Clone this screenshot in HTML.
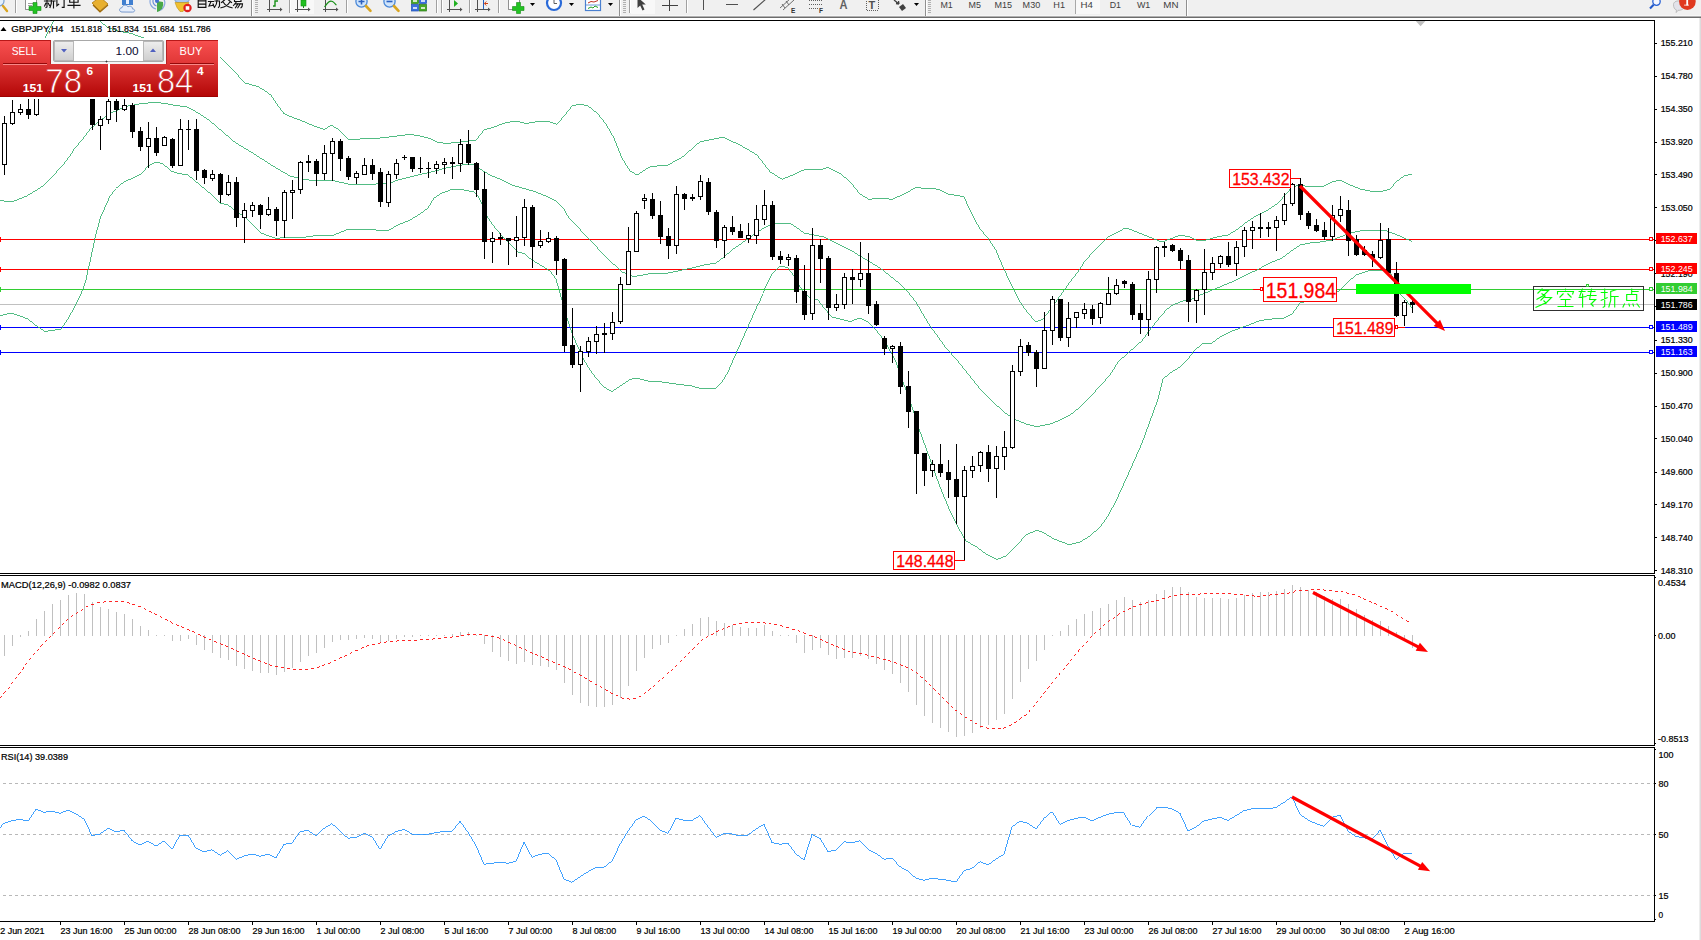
<!DOCTYPE html>
<html><head><meta charset="utf-8"><title>GBPJPY H4</title>
<style>html,body{margin:0;padding:0;background:#fff}body{width:1701px;height:940px;overflow:hidden;position:relative;font-family:"Liberation Sans",sans-serif}svg{position:absolute;left:0;top:0;display:block}text{font-family:"Liberation Sans",sans-serif}</style>
</head><body>
<svg width="1701" height="940" viewBox="0 0 1701 940">
<defs>
<linearGradient id="gTop" x1="0" y1="0" x2="0" y2="1"><stop offset="0" stop-color="#f85050"/><stop offset="1" stop-color="#e03636"/></linearGradient>
<linearGradient id="gBot" x1="0" y1="0" x2="0" y2="1"><stop offset="0" stop-color="#dc3434"/><stop offset="1" stop-color="#b30606"/></linearGradient>
<linearGradient id="gBtn" x1="0" y1="0" x2="0" y2="1"><stop offset="0" stop-color="#eeeeee"/><stop offset="1" stop-color="#cfcfcf"/></linearGradient>
<linearGradient id="gBotU" gradientUnits="userSpaceOnUse" x1="0" y1="64" x2="0" y2="97"><stop offset="0" stop-color="#dc3434"/><stop offset="1" stop-color="#b30606"/></linearGradient>
<clipPath id="cMain"><rect x="0" y="21" width="1654" height="552"/></clipPath>
<clipPath id="cTime"><rect x="0" y="922" width="1701" height="18"/></clipPath>
</defs>
<rect x="0" y="0" width="1701" height="940" fill="#fff"/>
<g clip-path="url(#cMain)">
<g shape-rendering="crispEdges">
<rect x="0" y="304" width="1654" height="1" fill="#c0c0c0"/>
<rect x="0" y="239" width="1654" height="1" fill="#ff0000"/>
<rect x="0" y="269" width="1654" height="1" fill="#ff0000"/>
<rect x="0" y="289" width="1654" height="1" fill="#32cd32"/>
<rect x="0" y="327" width="1654" height="1" fill="#0000ff"/>
<rect x="0" y="352" width="1654" height="1" fill="#0000ff"/>
</g>
<polyline points="45.0,38.0 50.0,28.0 54.2,20.0" fill="none" stroke="#34b06e" stroke-width="0.85" shape-rendering="crispEdges"/>
<polyline points="98.8,20.0 107.0,27.2 118.5,31.3 131.7,33.7 142.4,37.5 160.0,42.0 190.0,48.0 218.0,55.0 233.0,70.0 245.0,83.0 258.0,86.7 264.0,90.0 271.2,95.4 278.5,106.3 283.9,113.5 290.0,116.4 300.0,120.0 314.0,126.0 324.0,129.4 331.4,125.4 338.0,129.0 348.0,139.0 360.0,139.0 380.0,138.0 394.0,136.4 410.0,134.4 420.0,136.0 430.0,138.4 437.0,142.0 446.0,143.4 456.0,142.6 466.0,141.4 476.0,140.0 484.0,130.0 494.0,127.0 506.0,122.6 516.0,121.0 526.0,123.4 538.0,121.6 550.0,122.0 557.0,124.4 564.0,116.0 572.0,106.0 579.0,104.0 588.0,106.0 598.0,114.0 606.0,124.0 614.0,138.0 622.0,158.0 630.0,171.0 637.0,175.0 650.0,166.7 668.0,165.0 683.0,156.7 700.0,141.7 723.0,137.3 740.0,145.0 757.0,155.0 770.0,171.7 782.0,179.3 793.0,175.0 805.0,169.3 820.0,170.0 828.0,167.3 840.0,173.3 850.0,181.7 860.0,194.0 869.0,199.4 880.0,198.0 892.0,199.4 904.0,194.0 917.0,187.0 924.0,189.0 932.0,188.0 940.0,190.0 949.0,194.4 958.0,195.6 964.0,197.0 969.0,208.0 975.0,220.0 980.0,229.0 988.0,238.0 996.0,250.0 1000.0,260.0 1004.0,269.0 1009.0,280.0 1013.0,288.0 1020.0,302.0 1028.0,313.0 1036.0,322.0 1043.0,319.0 1050.0,310.0 1060.0,296.0 1070.0,282.0 1080.0,269.0 1084.0,262.0 1096.0,249.0 1108.0,237.0 1118.0,232.0 1125.0,228.0 1132.0,230.0 1144.0,235.0 1154.0,239.0 1162.0,242.0 1170.0,239.0 1180.0,235.0 1190.0,237.0 1198.0,241.0 1206.0,240.0 1218.0,236.6 1228.0,235.0 1238.0,229.0 1246.0,222.5 1256.0,216.0 1268.0,210.0 1278.0,203.0 1286.0,194.0 1292.0,187.0 1300.0,185.0 1310.0,187.0 1324.0,186.0 1332.0,182.0 1340.0,180.0 1348.0,184.0 1360.0,189.0 1370.0,191.0 1380.0,192.0 1390.0,189.0 1396.0,182.0 1404.0,176.0 1412.0,174.0" fill="none" stroke="#34b06e" stroke-width="0.85" shape-rendering="crispEdges"/>
<polyline points="0.0,200.7 12.7,201.6 27.1,195.8 43.4,185.8 54.2,175.0 61.5,165.9 72.3,151.5 81.4,140.6 90.4,128.9 101.3,119.8 112.1,112.6 126.6,106.3 141.0,103.6 155.5,102.3 170.0,104.5 188.1,107.2 198.9,113.5 209.8,120.7 222.4,131.6 235.1,142.4 253.2,153.3 271.2,165.0 282.1,171.4 290.0,176.0 302.0,179.0 316.0,181.0 332.0,180.4 348.0,184.0 358.0,184.4 376.0,184.0 390.0,183.0 398.0,180.0 410.0,177.0 422.0,174.0 434.0,171.4 446.0,168.0 456.0,166.0 466.0,164.4 474.0,165.0 480.0,169.0 490.0,175.0 502.0,180.0 512.0,185.0 522.0,188.0 536.0,192.0 548.0,197.0 556.0,201.0 564.0,209.0 567.0,215.0 571.0,220.0 590.0,240.0 606.0,257.0 622.0,272.0 634.0,276.6 650.0,273.6 668.0,273.0 692.0,268.0 704.0,265.0 716.0,263.0 724.0,257.0 732.0,250.0 742.0,243.0 752.0,236.0 762.0,229.0 770.0,225.0 778.0,223.0 789.0,223.0 796.0,227.0 804.0,233.0 814.0,235.0 824.0,237.0 830.0,240.0 840.0,245.0 852.0,251.0 860.0,256.0 870.0,262.0 880.0,268.0 890.0,276.0 900.0,284.0 908.0,292.0 916.0,302.0 924.0,316.0 930.0,326.0 936.0,334.0 946.0,348.0 957.0,360.0 969.0,375.0 980.0,389.0 992.0,401.0 1004.0,412.0 1014.0,419.0 1026.0,424.0 1037.0,426.6 1050.0,424.0 1060.0,420.0 1070.0,415.0 1080.0,407.0 1090.0,397.0 1100.0,386.0 1110.0,375.0 1118.0,362.0 1128.0,353.0 1140.0,342.5 1150.0,328.5 1158.0,318.5 1164.0,311.5 1172.0,305.5 1182.0,301.2 1190.0,300.0 1200.0,295.0 1210.0,291.0 1222.0,286.0 1234.0,281.0 1246.0,275.0 1258.0,269.4 1270.0,263.0 1282.0,258.0 1290.0,252.0 1300.0,245.0 1310.0,243.0 1320.0,242.0 1332.0,240.0 1340.0,237.0 1350.0,233.0 1360.0,231.0 1372.0,230.0 1384.0,230.0 1392.0,233.0 1400.0,236.0 1412.0,241.6" fill="none" stroke="#34b06e" stroke-width="0.85" shape-rendering="crispEdges"/>
<polyline points="0.0,315.6 11.0,313.0 20.0,316.0 28.0,319.0 36.0,325.6 45.0,331.4 52.0,330.4 61.0,329.0 68.0,319.0 75.0,306.0 80.0,296.0 84.0,286.0 86.0,280.0 88.5,268.0 90.4,260.0 95.8,234.7 101.3,214.8 108.5,198.5 115.7,188.6 124.8,181.3 133.8,177.7 141.0,174.1 148.3,165.9 155.5,162.3 162.7,163.8 171.8,171.4 179.0,173.5 188.1,175.0 198.9,184.0 209.8,193.1 219.7,203.0 227.8,204.8 235.1,210.3 244.1,216.6 253.2,224.7 260.4,232.9 269.4,236.1 276.7,238.6 283.9,237.4 290.0,237.6 306.0,237.0 320.0,235.0 332.0,235.6 348.0,229.4 360.0,229.0 376.0,230.0 388.0,230.6 398.0,225.0 410.0,220.0 420.0,214.0 428.0,208.0 434.0,198.0 442.0,193.0 452.0,189.4 464.0,190.0 474.0,192.0 478.0,196.0 482.0,204.0 487.0,216.0 492.0,224.0 502.0,236.0 510.0,244.0 518.0,252.0 524.0,253.6 532.0,260.0 542.0,266.0 550.0,271.0 556.0,279.0 562.0,300.0 567.0,318.0 573.0,336.0 582.0,356.0 588.0,367.0 596.0,378.0 604.0,387.0 612.0,391.6 620.0,386.0 630.0,379.4 636.0,378.0 648.0,381.0 662.0,382.0 676.0,384.0 692.0,386.0 700.0,388.4 716.0,388.4 722.0,382.0 728.0,372.0 734.0,358.0 742.0,340.0 750.0,322.0 758.0,304.0 766.0,286.0 772.0,274.0 778.0,267.6 782.0,266.0 788.0,268.0 794.0,276.0 802.0,290.0 810.0,298.0 818.0,300.0 824.0,308.0 832.0,317.0 840.0,319.0 850.0,321.6 860.0,318.0 868.0,322.0 876.0,330.0 884.0,340.0 892.0,354.0 896.0,362.0 902.0,379.0 910.0,401.0 919.0,429.0 930.0,459.0 940.0,487.0 950.0,511.0 958.0,527.0 966.0,541.0 976.0,546.6 986.0,554.0 997.0,559.4 1006.0,556.0 1016.0,546.0 1026.0,535.0 1037.0,530.0 1044.0,533.0 1054.0,539.0 1069.0,544.6 1080.0,542.0 1090.0,536.0 1100.0,527.0 1108.0,516.0 1116.0,501.0 1126.0,479.0 1134.0,461.0 1142.0,443.0 1150.0,421.0 1158.0,399.0 1163.0,379.0 1170.0,373.0 1180.0,367.0 1188.0,359.0 1194.0,351.0 1202.0,344.0 1212.0,343.0 1220.0,337.0 1232.0,331.0 1246.0,326.0 1260.0,320.6 1272.0,319.0 1284.0,318.0 1292.0,314.0 1300.0,303.0 1314.0,299.0 1332.0,296.0 1340.0,290.0 1348.0,282.0 1356.0,275.0 1368.0,271.0 1380.0,270.0 1390.0,272.0 1396.0,284.0 1400.0,294.0 1406.0,300.0 1412.0,308.0" fill="none" stroke="#34b06e" stroke-width="0.85" shape-rendering="crispEdges"/>
<g shape-rendering="crispEdges" fill="#000">
<rect x="4" y="116" width="1" height="59"/>
<rect x="2" y="123" width="5" height="42"/>
<rect x="3" y="124" width="3" height="40" fill="#fff"/>
<rect x="12" y="100" width="1" height="25"/>
<rect x="10" y="112" width="5" height="12"/>
<rect x="11" y="113" width="3" height="10" fill="#fff"/>
<rect x="20" y="104" width="1" height="11"/>
<rect x="18" y="109" width="5" height="4"/>
<rect x="19" y="110" width="3" height="2" fill="#fff"/>
<rect x="28" y="99" width="1" height="20"/>
<rect x="26" y="109" width="5" height="6"/>
<rect x="36" y="90" width="1" height="26"/>
<rect x="34" y="92" width="5" height="23"/>
<rect x="35" y="93" width="3" height="21" fill="#fff"/>
<rect x="92" y="80" width="1" height="50"/>
<rect x="90" y="80" width="5" height="45"/>
<rect x="100" y="116" width="1" height="34"/>
<rect x="98" y="119" width="5" height="7"/>
<rect x="99" y="120" width="3" height="5" fill="#fff"/>
<rect x="108" y="90" width="1" height="34"/>
<rect x="106" y="101" width="5" height="19"/>
<rect x="107" y="102" width="3" height="17" fill="#fff"/>
<rect x="116" y="92" width="1" height="30"/>
<rect x="114" y="101" width="5" height="9"/>
<rect x="124" y="92" width="1" height="19"/>
<rect x="122" y="105" width="5" height="5"/>
<rect x="123" y="106" width="3" height="3" fill="#fff"/>
<rect x="132" y="103" width="1" height="35"/>
<rect x="130" y="105" width="5" height="27"/>
<rect x="140" y="127" width="1" height="24"/>
<rect x="138" y="131" width="5" height="16"/>
<rect x="148" y="122" width="1" height="46"/>
<rect x="146" y="138" width="5" height="9"/>
<rect x="147" y="139" width="3" height="7" fill="#fff"/>
<rect x="156" y="127" width="1" height="29"/>
<rect x="154" y="138" width="5" height="15"/>
<rect x="164" y="136" width="1" height="10"/>
<rect x="162" y="137" width="5" height="9"/>
<rect x="163" y="138" width="3" height="7" fill="#fff"/>
<rect x="172" y="138" width="1" height="30"/>
<rect x="170" y="139" width="5" height="27"/>
<rect x="180" y="119" width="1" height="47"/>
<rect x="178" y="129" width="5" height="37"/>
<rect x="179" y="130" width="3" height="35" fill="#fff"/>
<rect x="188" y="120" width="1" height="30"/>
<rect x="186" y="129" width="5" height="1"/>
<rect x="196" y="119" width="1" height="61"/>
<rect x="194" y="129" width="5" height="42"/>
<rect x="204" y="169" width="1" height="15"/>
<rect x="202" y="170" width="5" height="8"/>
<rect x="212" y="170" width="1" height="11"/>
<rect x="210" y="174" width="5" height="5"/>
<rect x="211" y="175" width="3" height="3" fill="#fff"/>
<rect x="220" y="173" width="1" height="30"/>
<rect x="218" y="174" width="5" height="21"/>
<rect x="228" y="175" width="1" height="21"/>
<rect x="226" y="182" width="5" height="13"/>
<rect x="227" y="183" width="3" height="11" fill="#fff"/>
<rect x="236" y="177" width="1" height="50"/>
<rect x="234" y="182" width="5" height="36"/>
<rect x="244" y="203" width="1" height="40"/>
<rect x="242" y="210" width="5" height="8"/>
<rect x="243" y="211" width="3" height="6" fill="#fff"/>
<rect x="252" y="202" width="1" height="15"/>
<rect x="250" y="205" width="5" height="6"/>
<rect x="251" y="206" width="3" height="4" fill="#fff"/>
<rect x="260" y="204" width="1" height="25"/>
<rect x="258" y="205" width="5" height="10"/>
<rect x="268" y="197" width="1" height="19"/>
<rect x="266" y="209" width="5" height="6"/>
<rect x="267" y="210" width="3" height="4" fill="#fff"/>
<rect x="276" y="207" width="1" height="29"/>
<rect x="274" y="209" width="5" height="12"/>
<rect x="284" y="190" width="1" height="48"/>
<rect x="282" y="192" width="5" height="29"/>
<rect x="283" y="193" width="3" height="27" fill="#fff"/>
<rect x="292" y="180" width="1" height="39"/>
<rect x="290" y="190" width="5" height="3"/>
<rect x="291" y="191" width="3" height="1" fill="#fff"/>
<rect x="300" y="161" width="1" height="33"/>
<rect x="298" y="162" width="5" height="28"/>
<rect x="299" y="163" width="3" height="26" fill="#fff"/>
<rect x="308" y="155" width="1" height="17"/>
<rect x="306" y="161" width="5" height="2"/>
<rect x="316" y="159" width="1" height="27"/>
<rect x="314" y="161" width="5" height="13"/>
<rect x="324" y="145" width="1" height="35"/>
<rect x="322" y="153" width="5" height="21"/>
<rect x="323" y="154" width="3" height="19" fill="#fff"/>
<rect x="332" y="138" width="1" height="43"/>
<rect x="330" y="141" width="5" height="13"/>
<rect x="331" y="142" width="3" height="11" fill="#fff"/>
<rect x="340" y="139" width="1" height="32"/>
<rect x="338" y="141" width="5" height="18"/>
<rect x="348" y="156" width="1" height="24"/>
<rect x="346" y="158" width="5" height="19"/>
<rect x="356" y="171" width="1" height="13"/>
<rect x="354" y="173" width="5" height="5"/>
<rect x="355" y="174" width="3" height="3" fill="#fff"/>
<rect x="364" y="158" width="1" height="17"/>
<rect x="362" y="165" width="5" height="10"/>
<rect x="363" y="166" width="3" height="8" fill="#fff"/>
<rect x="372" y="159" width="1" height="21"/>
<rect x="370" y="165" width="5" height="9"/>
<rect x="380" y="168" width="1" height="39"/>
<rect x="378" y="172" width="5" height="30"/>
<rect x="388" y="171" width="1" height="36"/>
<rect x="386" y="174" width="5" height="29"/>
<rect x="387" y="175" width="3" height="27" fill="#fff"/>
<rect x="396" y="159" width="1" height="20"/>
<rect x="394" y="163" width="5" height="12"/>
<rect x="395" y="164" width="3" height="10" fill="#fff"/>
<rect x="404" y="155" width="1" height="5"/>
<rect x="402" y="157" width="5" height="1"/>
<rect x="412" y="157" width="1" height="15"/>
<rect x="410" y="157" width="5" height="12"/>
<rect x="420" y="157" width="1" height="16"/>
<rect x="418" y="168" width="5" height="1"/>
<rect x="428" y="162" width="1" height="16"/>
<rect x="426" y="168" width="5" height="1"/>
<rect x="436" y="161" width="1" height="13"/>
<rect x="434" y="164" width="5" height="5"/>
<rect x="435" y="165" width="3" height="3" fill="#fff"/>
<rect x="444" y="158" width="1" height="16"/>
<rect x="442" y="162" width="5" height="3"/>
<rect x="443" y="163" width="3" height="1" fill="#fff"/>
<rect x="452" y="157" width="1" height="22"/>
<rect x="450" y="162" width="5" height="2"/>
<rect x="460" y="139" width="1" height="33"/>
<rect x="458" y="144" width="5" height="20"/>
<rect x="459" y="145" width="3" height="18" fill="#fff"/>
<rect x="468" y="130" width="1" height="35"/>
<rect x="466" y="144" width="5" height="19"/>
<rect x="476" y="162" width="1" height="35"/>
<rect x="474" y="163" width="5" height="27"/>
<rect x="484" y="172" width="1" height="87"/>
<rect x="482" y="189" width="5" height="53"/>
<rect x="492" y="232" width="1" height="31"/>
<rect x="490" y="238" width="5" height="4"/>
<rect x="491" y="239" width="3" height="2" fill="#fff"/>
<rect x="500" y="233" width="1" height="12"/>
<rect x="498" y="237" width="5" height="2"/>
<rect x="508" y="238" width="1" height="27"/>
<rect x="506" y="238" width="5" height="3"/>
<rect x="516" y="216" width="1" height="41"/>
<rect x="514" y="237" width="5" height="4"/>
<rect x="515" y="238" width="3" height="2" fill="#fff"/>
<rect x="524" y="199" width="1" height="47"/>
<rect x="522" y="207" width="5" height="31"/>
<rect x="523" y="208" width="3" height="29" fill="#fff"/>
<rect x="532" y="205" width="1" height="63"/>
<rect x="530" y="207" width="5" height="40"/>
<rect x="540" y="230" width="1" height="18"/>
<rect x="538" y="241" width="5" height="5"/>
<rect x="539" y="242" width="3" height="3" fill="#fff"/>
<rect x="548" y="232" width="1" height="11"/>
<rect x="546" y="238" width="5" height="4"/>
<rect x="547" y="239" width="3" height="2" fill="#fff"/>
<rect x="556" y="236" width="1" height="39"/>
<rect x="554" y="238" width="5" height="23"/>
<rect x="564" y="258" width="1" height="94"/>
<rect x="562" y="259" width="5" height="87"/>
<rect x="572" y="308" width="1" height="60"/>
<rect x="570" y="345" width="5" height="20"/>
<rect x="580" y="346" width="1" height="46"/>
<rect x="578" y="351" width="5" height="14"/>
<rect x="579" y="352" width="3" height="12" fill="#fff"/>
<rect x="588" y="337" width="1" height="20"/>
<rect x="586" y="341" width="5" height="11"/>
<rect x="587" y="342" width="3" height="9" fill="#fff"/>
<rect x="596" y="326" width="1" height="28"/>
<rect x="594" y="334" width="5" height="8"/>
<rect x="595" y="335" width="3" height="6" fill="#fff"/>
<rect x="604" y="323" width="1" height="30"/>
<rect x="602" y="333" width="5" height="2"/>
<rect x="612" y="312" width="1" height="28"/>
<rect x="610" y="322" width="5" height="12"/>
<rect x="611" y="323" width="3" height="10" fill="#fff"/>
<rect x="620" y="277" width="1" height="47"/>
<rect x="618" y="284" width="5" height="38"/>
<rect x="619" y="285" width="3" height="36" fill="#fff"/>
<rect x="628" y="227" width="1" height="58"/>
<rect x="626" y="251" width="5" height="34"/>
<rect x="627" y="252" width="3" height="32" fill="#fff"/>
<rect x="636" y="211" width="1" height="41"/>
<rect x="634" y="213" width="5" height="39"/>
<rect x="635" y="214" width="3" height="37" fill="#fff"/>
<rect x="644" y="194" width="1" height="15"/>
<rect x="642" y="198" width="5" height="3"/>
<rect x="643" y="199" width="3" height="1" fill="#fff"/>
<rect x="652" y="193" width="1" height="26"/>
<rect x="650" y="199" width="5" height="17"/>
<rect x="660" y="201" width="1" height="43"/>
<rect x="658" y="215" width="5" height="22"/>
<rect x="668" y="228" width="1" height="31"/>
<rect x="666" y="236" width="5" height="10"/>
<rect x="676" y="186" width="1" height="68"/>
<rect x="674" y="194" width="5" height="52"/>
<rect x="675" y="195" width="3" height="50" fill="#fff"/>
<rect x="684" y="193" width="1" height="17"/>
<rect x="682" y="194" width="5" height="5"/>
<rect x="692" y="194" width="1" height="7"/>
<rect x="690" y="197" width="5" height="2"/>
<rect x="700" y="175" width="1" height="25"/>
<rect x="698" y="181" width="5" height="16"/>
<rect x="699" y="182" width="3" height="14" fill="#fff"/>
<rect x="708" y="178" width="1" height="37"/>
<rect x="706" y="182" width="5" height="30"/>
<rect x="716" y="210" width="1" height="38"/>
<rect x="714" y="212" width="5" height="29"/>
<rect x="724" y="225" width="1" height="33"/>
<rect x="722" y="227" width="5" height="14"/>
<rect x="723" y="228" width="3" height="12" fill="#fff"/>
<rect x="732" y="216" width="1" height="19"/>
<rect x="730" y="227" width="5" height="5"/>
<rect x="740" y="224" width="1" height="14"/>
<rect x="738" y="231" width="5" height="7"/>
<rect x="748" y="223" width="1" height="20"/>
<rect x="746" y="235" width="5" height="4"/>
<rect x="747" y="236" width="3" height="2" fill="#fff"/>
<rect x="756" y="205" width="1" height="39"/>
<rect x="754" y="219" width="5" height="17"/>
<rect x="755" y="220" width="3" height="15" fill="#fff"/>
<rect x="764" y="190" width="1" height="35"/>
<rect x="762" y="205" width="5" height="15"/>
<rect x="763" y="206" width="3" height="13" fill="#fff"/>
<rect x="772" y="201" width="1" height="59"/>
<rect x="770" y="205" width="5" height="52"/>
<rect x="780" y="251" width="1" height="13"/>
<rect x="778" y="256" width="5" height="4"/>
<rect x="788" y="254" width="1" height="12"/>
<rect x="786" y="257" width="5" height="3"/>
<rect x="787" y="258" width="3" height="1" fill="#fff"/>
<rect x="796" y="255" width="1" height="48"/>
<rect x="794" y="258" width="5" height="34"/>
<rect x="804" y="265" width="1" height="55"/>
<rect x="802" y="291" width="5" height="24"/>
<rect x="812" y="228" width="1" height="92"/>
<rect x="810" y="245" width="5" height="69"/>
<rect x="811" y="246" width="3" height="67" fill="#fff"/>
<rect x="820" y="239" width="1" height="44"/>
<rect x="818" y="245" width="5" height="14"/>
<rect x="828" y="256" width="1" height="64"/>
<rect x="826" y="258" width="5" height="50"/>
<rect x="836" y="294" width="1" height="17"/>
<rect x="834" y="304" width="5" height="4"/>
<rect x="835" y="305" width="3" height="2" fill="#fff"/>
<rect x="844" y="273" width="1" height="36"/>
<rect x="842" y="277" width="5" height="28"/>
<rect x="843" y="278" width="3" height="26" fill="#fff"/>
<rect x="852" y="269" width="1" height="35"/>
<rect x="850" y="277" width="5" height="3"/>
<rect x="860" y="242" width="1" height="45"/>
<rect x="858" y="273" width="5" height="7"/>
<rect x="859" y="274" width="3" height="5" fill="#fff"/>
<rect x="868" y="253" width="1" height="61"/>
<rect x="866" y="273" width="5" height="33"/>
<rect x="876" y="301" width="1" height="25"/>
<rect x="874" y="304" width="5" height="21"/>
<rect x="884" y="336" width="1" height="19"/>
<rect x="882" y="338" width="5" height="11"/>
<rect x="892" y="345" width="1" height="18"/>
<rect x="890" y="346" width="5" height="3"/>
<rect x="891" y="347" width="3" height="1" fill="#fff"/>
<rect x="900" y="342" width="1" height="52"/>
<rect x="898" y="346" width="5" height="41"/>
<rect x="908" y="371" width="1" height="57"/>
<rect x="906" y="386" width="5" height="26"/>
<rect x="916" y="411" width="1" height="83"/>
<rect x="914" y="411" width="5" height="43"/>
<rect x="924" y="453" width="1" height="33"/>
<rect x="922" y="453" width="5" height="18"/>
<rect x="932" y="460" width="1" height="17"/>
<rect x="930" y="464" width="5" height="7"/>
<rect x="931" y="465" width="3" height="5" fill="#fff"/>
<rect x="940" y="444" width="1" height="33"/>
<rect x="938" y="464" width="5" height="9"/>
<rect x="948" y="460" width="1" height="38"/>
<rect x="946" y="472" width="5" height="8"/>
<rect x="956" y="444" width="1" height="80"/>
<rect x="954" y="479" width="5" height="18"/>
<rect x="964" y="466" width="1" height="94"/>
<rect x="962" y="470" width="5" height="27"/>
<rect x="963" y="471" width="3" height="25" fill="#fff"/>
<rect x="972" y="456" width="1" height="22"/>
<rect x="970" y="466" width="5" height="5"/>
<rect x="971" y="467" width="3" height="3" fill="#fff"/>
<rect x="980" y="451" width="1" height="21"/>
<rect x="978" y="452" width="5" height="14"/>
<rect x="979" y="453" width="3" height="12" fill="#fff"/>
<rect x="988" y="445" width="1" height="37"/>
<rect x="986" y="452" width="5" height="17"/>
<rect x="996" y="446" width="1" height="52"/>
<rect x="994" y="456" width="5" height="13"/>
<rect x="995" y="457" width="3" height="11" fill="#fff"/>
<rect x="1004" y="431" width="1" height="39"/>
<rect x="1002" y="447" width="5" height="10"/>
<rect x="1003" y="448" width="3" height="8" fill="#fff"/>
<rect x="1012" y="365" width="1" height="84"/>
<rect x="1010" y="371" width="5" height="77"/>
<rect x="1011" y="372" width="3" height="75" fill="#fff"/>
<rect x="1020" y="339" width="1" height="37"/>
<rect x="1018" y="346" width="5" height="26"/>
<rect x="1019" y="347" width="3" height="24" fill="#fff"/>
<rect x="1028" y="342" width="1" height="14"/>
<rect x="1026" y="345" width="5" height="8"/>
<rect x="1036" y="350" width="1" height="37"/>
<rect x="1034" y="352" width="5" height="17"/>
<rect x="1044" y="312" width="1" height="57"/>
<rect x="1042" y="330" width="5" height="39"/>
<rect x="1043" y="331" width="3" height="37" fill="#fff"/>
<rect x="1052" y="296" width="1" height="49"/>
<rect x="1050" y="299" width="5" height="32"/>
<rect x="1051" y="300" width="3" height="30" fill="#fff"/>
<rect x="1060" y="299" width="1" height="42"/>
<rect x="1058" y="299" width="5" height="39"/>
<rect x="1068" y="302" width="1" height="45"/>
<rect x="1066" y="318" width="5" height="20"/>
<rect x="1067" y="319" width="3" height="18" fill="#fff"/>
<rect x="1076" y="312" width="1" height="16"/>
<rect x="1074" y="312" width="5" height="6"/>
<rect x="1075" y="313" width="3" height="4" fill="#fff"/>
<rect x="1084" y="303" width="1" height="16"/>
<rect x="1082" y="309" width="5" height="5"/>
<rect x="1083" y="310" width="3" height="3" fill="#fff"/>
<rect x="1092" y="305" width="1" height="20"/>
<rect x="1090" y="309" width="5" height="10"/>
<rect x="1100" y="302" width="1" height="22"/>
<rect x="1098" y="303" width="5" height="15"/>
<rect x="1099" y="304" width="3" height="13" fill="#fff"/>
<rect x="1108" y="277" width="1" height="28"/>
<rect x="1106" y="293" width="5" height="12"/>
<rect x="1107" y="294" width="3" height="10" fill="#fff"/>
<rect x="1116" y="279" width="1" height="16"/>
<rect x="1114" y="285" width="5" height="9"/>
<rect x="1115" y="286" width="3" height="7" fill="#fff"/>
<rect x="1124" y="280" width="1" height="8"/>
<rect x="1122" y="281" width="5" height="3"/>
<rect x="1132" y="282" width="1" height="38"/>
<rect x="1130" y="284" width="5" height="31"/>
<rect x="1140" y="304" width="1" height="30"/>
<rect x="1138" y="313" width="5" height="7"/>
<rect x="1148" y="271" width="1" height="65"/>
<rect x="1146" y="279" width="5" height="41"/>
<rect x="1147" y="280" width="3" height="39" fill="#fff"/>
<rect x="1156" y="246" width="1" height="47"/>
<rect x="1154" y="247" width="5" height="33"/>
<rect x="1155" y="248" width="3" height="31" fill="#fff"/>
<rect x="1164" y="242" width="1" height="15"/>
<rect x="1162" y="246" width="5" height="2"/>
<rect x="1172" y="244" width="1" height="8"/>
<rect x="1170" y="245" width="5" height="6"/>
<rect x="1180" y="248" width="1" height="21"/>
<rect x="1178" y="250" width="5" height="11"/>
<rect x="1188" y="255" width="1" height="67"/>
<rect x="1186" y="260" width="5" height="42"/>
<rect x="1196" y="289" width="1" height="34"/>
<rect x="1194" y="290" width="5" height="11"/>
<rect x="1195" y="291" width="3" height="9" fill="#fff"/>
<rect x="1204" y="249" width="1" height="66"/>
<rect x="1202" y="272" width="5" height="18"/>
<rect x="1203" y="273" width="3" height="16" fill="#fff"/>
<rect x="1212" y="257" width="1" height="23"/>
<rect x="1210" y="263" width="5" height="10"/>
<rect x="1211" y="264" width="3" height="8" fill="#fff"/>
<rect x="1220" y="255" width="1" height="13"/>
<rect x="1218" y="256" width="5" height="8"/>
<rect x="1219" y="257" width="3" height="6" fill="#fff"/>
<rect x="1228" y="242" width="1" height="25"/>
<rect x="1226" y="256" width="5" height="9"/>
<rect x="1236" y="241" width="1" height="35"/>
<rect x="1234" y="247" width="5" height="17"/>
<rect x="1235" y="248" width="3" height="15" fill="#fff"/>
<rect x="1244" y="227" width="1" height="30"/>
<rect x="1242" y="230" width="5" height="17"/>
<rect x="1243" y="231" width="3" height="15" fill="#fff"/>
<rect x="1252" y="221" width="1" height="28"/>
<rect x="1250" y="227" width="5" height="4"/>
<rect x="1251" y="228" width="3" height="2" fill="#fff"/>
<rect x="1260" y="213" width="1" height="25"/>
<rect x="1258" y="227" width="5" height="2"/>
<rect x="1268" y="222" width="1" height="15"/>
<rect x="1266" y="227" width="5" height="2"/>
<rect x="1276" y="216" width="1" height="35"/>
<rect x="1274" y="220" width="5" height="8"/>
<rect x="1275" y="221" width="3" height="6" fill="#fff"/>
<rect x="1284" y="193" width="1" height="32"/>
<rect x="1282" y="204" width="5" height="17"/>
<rect x="1283" y="205" width="3" height="15" fill="#fff"/>
<rect x="1292" y="183" width="1" height="23"/>
<rect x="1290" y="184" width="5" height="20"/>
<rect x="1291" y="185" width="3" height="18" fill="#fff"/>
<rect x="1300" y="178" width="1" height="42"/>
<rect x="1298" y="184" width="5" height="31"/>
<rect x="1308" y="211" width="1" height="18"/>
<rect x="1306" y="213" width="5" height="13"/>
<rect x="1316" y="219" width="1" height="13"/>
<rect x="1314" y="225" width="5" height="6"/>
<rect x="1324" y="222" width="1" height="18"/>
<rect x="1322" y="230" width="5" height="7"/>
<rect x="1332" y="205" width="1" height="36"/>
<rect x="1330" y="215" width="5" height="22"/>
<rect x="1331" y="216" width="3" height="20" fill="#fff"/>
<rect x="1340" y="196" width="1" height="26"/>
<rect x="1338" y="209" width="5" height="7"/>
<rect x="1339" y="210" width="3" height="5" fill="#fff"/>
<rect x="1348" y="200" width="1" height="56"/>
<rect x="1346" y="210" width="5" height="31"/>
<rect x="1356" y="235" width="1" height="21"/>
<rect x="1354" y="239" width="5" height="16"/>
<rect x="1364" y="246" width="1" height="10"/>
<rect x="1362" y="250" width="5" height="5"/>
<rect x="1372" y="251" width="1" height="16"/>
<rect x="1370" y="254" width="5" height="4"/>
<rect x="1380" y="223" width="1" height="36"/>
<rect x="1378" y="240" width="5" height="18"/>
<rect x="1379" y="241" width="3" height="16" fill="#fff"/>
<rect x="1388" y="228" width="1" height="45"/>
<rect x="1386" y="239" width="5" height="34"/>
<rect x="1396" y="262" width="1" height="55"/>
<rect x="1394" y="273" width="5" height="43"/>
<rect x="1404" y="300" width="1" height="26"/>
<rect x="1402" y="302" width="5" height="14"/>
<rect x="1403" y="303" width="3" height="12" fill="#fff"/>
<rect x="1412" y="300" width="1" height="13"/>
<rect x="1410" y="302" width="5" height="3"/>
</g>
</g>
<g>
<line x1="1300.0" y1="186.0" x2="1438.3" y2="324.3" stroke="#ff0000" stroke-width="3.2"/>
<polygon points="1445.0,331.0 1433.7,326.1 1440.1,319.7" fill="#ff0000"/>
<rect x="1356" y="284" width="115" height="10" fill="#00ff00" shape-rendering="crispEdges"/>
<rect x="1229.5" y="169.5" width="61" height="18" fill="#fff" stroke="#ff0000" stroke-width="1" shape-rendering="crispEdges"/>
<text x="1232.2" y="185.1" font-size="16.9" fill="#ff0000" textLength="57.3" lengthAdjust="spacingAndGlyphs" stroke="#ff0000" stroke-width="0.3">153.432</text>
<path d="M1290.5 178.5H1300" fill="none" stroke="#ff0000" stroke-width="1" shape-rendering="crispEdges"/>
<rect x="1263.5" y="277.5" width="73" height="24" fill="#fff" stroke="#ff0000" stroke-width="1" shape-rendering="crispEdges"/>
<text x="1265.8" y="298.1" font-size="22.5" fill="#ff0000" textLength="70.2" lengthAdjust="spacingAndGlyphs" stroke="#ff0000" stroke-width="0.3">151.984</text>
<path d="M1253 289.5H1260" stroke="#ff0000" stroke-width="1" shape-rendering="crispEdges"/><rect x="1260.5" y="287.5" width="2" height="3" fill="#fff" stroke="#ff0000" stroke-width="1" shape-rendering="crispEdges"/>
<rect x="1333.5" y="318.5" width="61" height="18" fill="#fff" stroke="#ff0000" stroke-width="1" shape-rendering="crispEdges"/>
<text x="1336.2" y="334.1" font-size="16.9" fill="#ff0000" textLength="57.3" lengthAdjust="spacingAndGlyphs" stroke="#ff0000" stroke-width="0.3">151.489</text>
<rect x="1395.5" y="325.5" width="2" height="3" fill="#fff" stroke="#ff0000" stroke-width="1" shape-rendering="crispEdges"/><path d="M1398 327.5H1405" stroke="#ff0000" stroke-width="1" shape-rendering="crispEdges"/>
<rect x="893.5" y="551.5" width="61" height="18" fill="#fff" stroke="#ff0000" stroke-width="1" shape-rendering="crispEdges"/>
<text x="896.2" y="567.1" font-size="16.9" fill="#ff0000" textLength="57.3" lengthAdjust="spacingAndGlyphs" stroke="#ff0000" stroke-width="0.3">148.448</text>
<path d="M955 560.5H964.5" stroke="#ff0000" stroke-width="1" shape-rendering="crispEdges"/>
<rect x="1649.5" y="237.5" width="3" height="3" fill="#fff" stroke="#ff0000" stroke-width="1" shape-rendering="crispEdges"/>
<rect x="0" y="237" width="1" height="5" fill="#ff0000" shape-rendering="crispEdges"/>
<rect x="1649.5" y="267.5" width="3" height="3" fill="#fff" stroke="#ff0000" stroke-width="1" shape-rendering="crispEdges"/>
<rect x="0" y="267" width="1" height="5" fill="#ff0000" shape-rendering="crispEdges"/>
<rect x="1649.5" y="287.5" width="3" height="3" fill="#fff" stroke="#32cd32" stroke-width="1" shape-rendering="crispEdges"/>
<rect x="0" y="287" width="1" height="5" fill="#32cd32" shape-rendering="crispEdges"/>
<rect x="1649.5" y="325.5" width="3" height="3" fill="#fff" stroke="#0000ff" stroke-width="1" shape-rendering="crispEdges"/>
<rect x="0" y="325" width="1" height="5" fill="#0000ff" shape-rendering="crispEdges"/>
<rect x="1649.5" y="350.5" width="3" height="3" fill="#fff" stroke="#0000ff" stroke-width="1" shape-rendering="crispEdges"/>
<rect x="0" y="350" width="1" height="5" fill="#0000ff" shape-rendering="crispEdges"/>
<rect x="1533.5" y="286.5" width="110" height="24" fill="none" stroke="#303030" stroke-width="1" shape-rendering="crispEdges"/>
<rect x="1586.5" y="284.5" width="2" height="2" fill="#fff" stroke="#32cd32" stroke-width="1" shape-rendering="crispEdges"/>
<path transform="translate(1534.5,288.5)" d="M8 0L3 5M7 2H14L9 7L2 11M7 5L10 7M11 7L6 12M10 9H17L12 14L1 19M9 12L12 15" fill="none" stroke="#00ff00" stroke-width="1.1"/>
<path transform="translate(1556.5,288.5)" d="M9 0V2M1 6V3H17L16 6M7 5L3 9M11 5L15 9M4 11H14M9 11V18M1 18H17" fill="none" stroke="#00ff00" stroke-width="1.1"/>
<path transform="translate(1578.6,288.5)" d="M0 3H7M4 0L1 8M0 9L8 8M4 5V19M9 3H17M8 7H18M13 0L11 11H17L13 15M12 15L15 18" fill="none" stroke="#00ff00" stroke-width="1.1"/>
<path transform="translate(1600.7,288.5)" d="M0 4H7M4 0V18L2 19M0 12L7 9M16 1L10 3V12L8 19M10 8H18M14 8V19" fill="none" stroke="#00ff00" stroke-width="1.1"/>
<path transform="translate(1622.7,288.5)" d="M9 0V6M9 3H16M4 6H14V12H4ZM2 15L0 19M6 15L7 18M10 15L11 18M14 15L17 19" fill="none" stroke="#00ff00" stroke-width="1.1"/>
</g>
<polygon points="0.5,31 6.5,31 3.5,27" fill="#000"/>
<text x="11.2" y="31.9" font-size="9.3" fill="#000" stroke="#000" stroke-width="0.22" textLength="52.2" lengthAdjust="spacingAndGlyphs" >GBPJPY,H4</text>
<text x="70.8" y="31.9" font-size="9.3" fill="#000" stroke="#000" stroke-width="0.22" textLength="31.2" lengthAdjust="spacingAndGlyphs" >151.818</text>
<text x="107" y="31.9" font-size="9.3" fill="#000" stroke="#000" stroke-width="0.22" textLength="31.8" lengthAdjust="spacingAndGlyphs" >151.834</text>
<text x="142.9" y="31.9" font-size="9.3" fill="#000" stroke="#000" stroke-width="0.22" textLength="31.6" lengthAdjust="spacingAndGlyphs" >151.684</text>
<text x="178.6" y="31.9" font-size="9.3" fill="#000" stroke="#000" stroke-width="0.22" textLength="32.1" lengthAdjust="spacingAndGlyphs" >151.786</text>
<g id="panel">
<rect x="0" y="38" width="220" height="61" fill="#fff"/>
<rect x="0" y="40" width="108" height="24" fill="url(#gTop)"/>
<rect x="110" y="40" width="108" height="24" fill="url(#gTop)"/>
<rect x="0" y="64" width="108" height="33" fill="url(#gBot)"/>
<rect x="110" y="64" width="108" height="33" fill="url(#gBot)"/>
<rect x="108" y="64" width="2" height="33" fill="#fff"/>
<rect x="0" y="40" width="51" height="1" fill="#b81818"/><rect x="166" y="40" width="52" height="1" fill="#b81818"/>
<rect x="0" y="96" width="108" height="1" fill="#9e0202"/><rect x="110" y="96" width="108" height="1" fill="#9e0202"/>
<rect x="50" y="40" width="1" height="24" fill="#b82424"/><rect x="166" y="40" width="1" height="24" fill="#b82424"/>
<rect x="3" y="63" width="44" height="1" fill="#940808"/><rect x="3" y="64" width="44" height="1" fill="#f88888"/>
<rect x="170" y="63" width="44" height="1" fill="#940808"/><rect x="170" y="64" width="44" height="1" fill="#f88888"/>
<rect x="51" y="40" width="115" height="24" fill="#f4f4f4"/>
<rect x="53.5" y="40.5" width="110" height="21" rx="1.5" fill="#fff" stroke="#a8a8a8" stroke-width="1"/>
<rect x="54.5" y="41.5" width="19" height="19" fill="url(#gBtn)" stroke="#b8b8b8" stroke-width="1"/>
<rect x="143.5" y="41.5" width="19" height="19" fill="url(#gBtn)" stroke="#b8b8b8" stroke-width="1"/>
<polygon points="61,49 67,49 64,52.5" fill="#5060c0"/>
<polygon points="150,52 156,52 153,48.5" fill="#5060c0"/>
<path d="M105.5 61.5h2M106.5 60.5v2" stroke="#333" stroke-width="0.8"/>
<text x="115.6" y="54.8" font-size="11.5" fill="#0a0a30" textLength="23" lengthAdjust="spacingAndGlyphs" >1.00</text>
<text x="11.8" y="55.1" font-size="11.3" fill="#fff" textLength="25" lengthAdjust="spacingAndGlyphs" >SELL</text>
<text x="179.6" y="55.1" font-size="11.3" fill="#fff" textLength="22.8" lengthAdjust="spacingAndGlyphs" >BUY</text>
<text x="22.7" y="92" font-size="11.8" fill="#fff" textLength="20.3" lengthAdjust="spacingAndGlyphs" font-weight="bold" >151</text>
<text x="45.3" y="92.6" font-size="34.2" fill="#fff" textLength="36.8" lengthAdjust="spacingAndGlyphs" stroke="url(#gBotU)" stroke-width="0.8">78</text>
<text x="86.5" y="75.3" font-size="10" fill="#fff" textLength="6.6" lengthAdjust="spacingAndGlyphs" font-weight="bold" >6</text>
<text x="132.5" y="92" font-size="11.8" fill="#fff" textLength="20.3" lengthAdjust="spacingAndGlyphs" font-weight="bold" >151</text>
<text x="156.9" y="92.6" font-size="34.2" fill="#fff" textLength="36.3" lengthAdjust="spacingAndGlyphs" stroke="url(#gBotU)" stroke-width="0.8">84</text>
<text x="197" y="75.3" font-size="10" fill="#fff" textLength="6.6" lengthAdjust="spacingAndGlyphs" font-weight="bold" >4</text>
</g>
<g shape-rendering="crispEdges">
<rect x="4" y="635" width="1" height="21" fill="#c0c0c0"/>
<rect x="12" y="635" width="1" height="11" fill="#c0c0c0"/>
<rect x="20" y="635" width="1" height="2" fill="#c0c0c0"/>
<rect x="28" y="631" width="1" height="5" fill="#c0c0c0"/>
<rect x="36" y="619" width="1" height="17" fill="#c0c0c0"/>
<rect x="44" y="611" width="1" height="25" fill="#c0c0c0"/>
<rect x="52" y="604" width="1" height="32" fill="#c0c0c0"/>
<rect x="60" y="600" width="1" height="36" fill="#c0c0c0"/>
<rect x="68" y="595" width="1" height="41" fill="#c0c0c0"/>
<rect x="76" y="593" width="1" height="43" fill="#c0c0c0"/>
<rect x="84" y="594" width="1" height="42" fill="#c0c0c0"/>
<rect x="92" y="602" width="1" height="34" fill="#c0c0c0"/>
<rect x="100" y="607" width="1" height="29" fill="#c0c0c0"/>
<rect x="108" y="609" width="1" height="27" fill="#c0c0c0"/>
<rect x="116" y="612" width="1" height="24" fill="#c0c0c0"/>
<rect x="124" y="614" width="1" height="22" fill="#c0c0c0"/>
<rect x="132" y="619" width="1" height="17" fill="#c0c0c0"/>
<rect x="140" y="626" width="1" height="10" fill="#c0c0c0"/>
<rect x="148" y="630" width="1" height="6" fill="#c0c0c0"/>
<rect x="156" y="635" width="1" height="1" fill="#c0c0c0"/>
<rect x="164" y="635" width="1" height="1" fill="#c0c0c0"/>
<rect x="172" y="635" width="1" height="6" fill="#c0c0c0"/>
<rect x="180" y="635" width="1" height="6" fill="#c0c0c0"/>
<rect x="188" y="635" width="1" height="4" fill="#c0c0c0"/>
<rect x="196" y="635" width="1" height="10" fill="#c0c0c0"/>
<rect x="204" y="635" width="1" height="15" fill="#c0c0c0"/>
<rect x="212" y="635" width="1" height="18" fill="#c0c0c0"/>
<rect x="220" y="635" width="1" height="23" fill="#c0c0c0"/>
<rect x="228" y="635" width="1" height="25" fill="#c0c0c0"/>
<rect x="236" y="635" width="1" height="31" fill="#c0c0c0"/>
<rect x="244" y="635" width="1" height="34" fill="#c0c0c0"/>
<rect x="252" y="635" width="1" height="36" fill="#c0c0c0"/>
<rect x="260" y="635" width="1" height="38" fill="#c0c0c0"/>
<rect x="268" y="635" width="1" height="38" fill="#c0c0c0"/>
<rect x="276" y="635" width="1" height="40" fill="#c0c0c0"/>
<rect x="284" y="635" width="1" height="37" fill="#c0c0c0"/>
<rect x="292" y="635" width="1" height="33" fill="#c0c0c0"/>
<rect x="300" y="635" width="1" height="27" fill="#c0c0c0"/>
<rect x="308" y="635" width="1" height="21" fill="#c0c0c0"/>
<rect x="316" y="635" width="1" height="18" fill="#c0c0c0"/>
<rect x="324" y="635" width="1" height="13" fill="#c0c0c0"/>
<rect x="332" y="635" width="1" height="7" fill="#c0c0c0"/>
<rect x="340" y="635" width="1" height="5" fill="#c0c0c0"/>
<rect x="348" y="635" width="1" height="5" fill="#c0c0c0"/>
<rect x="356" y="635" width="1" height="4" fill="#c0c0c0"/>
<rect x="364" y="635" width="1" height="3" fill="#c0c0c0"/>
<rect x="372" y="635" width="1" height="4" fill="#c0c0c0"/>
<rect x="380" y="635" width="1" height="7" fill="#c0c0c0"/>
<rect x="388" y="635" width="1" height="6" fill="#c0c0c0"/>
<rect x="396" y="635" width="1" height="4" fill="#c0c0c0"/>
<rect x="404" y="635" width="1" height="2" fill="#c0c0c0"/>
<rect x="412" y="635" width="1" height="2" fill="#c0c0c0"/>
<rect x="420" y="635" width="1" height="1" fill="#c0c0c0"/>
<rect x="428" y="635" width="1" height="1" fill="#c0c0c0"/>
<rect x="436" y="635" width="1" height="1" fill="#c0c0c0"/>
<rect x="444" y="635" width="1" height="1" fill="#c0c0c0"/>
<rect x="452" y="634" width="1" height="2" fill="#c0c0c0"/>
<rect x="460" y="632" width="1" height="4" fill="#c0c0c0"/>
<rect x="468" y="632" width="1" height="4" fill="#c0c0c0"/>
<rect x="476" y="635" width="1" height="1" fill="#c0c0c0"/>
<rect x="484" y="635" width="1" height="9" fill="#c0c0c0"/>
<rect x="492" y="635" width="1" height="17" fill="#c0c0c0"/>
<rect x="500" y="635" width="1" height="22" fill="#c0c0c0"/>
<rect x="508" y="635" width="1" height="26" fill="#c0c0c0"/>
<rect x="516" y="635" width="1" height="29" fill="#c0c0c0"/>
<rect x="524" y="635" width="1" height="27" fill="#c0c0c0"/>
<rect x="532" y="635" width="1" height="30" fill="#c0c0c0"/>
<rect x="540" y="635" width="1" height="31" fill="#c0c0c0"/>
<rect x="548" y="635" width="1" height="32" fill="#c0c0c0"/>
<rect x="556" y="635" width="1" height="35" fill="#c0c0c0"/>
<rect x="564" y="635" width="1" height="48" fill="#c0c0c0"/>
<rect x="572" y="635" width="1" height="60" fill="#c0c0c0"/>
<rect x="580" y="635" width="1" height="68" fill="#c0c0c0"/>
<rect x="588" y="635" width="1" height="71" fill="#c0c0c0"/>
<rect x="596" y="635" width="1" height="72" fill="#c0c0c0"/>
<rect x="604" y="635" width="1" height="72" fill="#c0c0c0"/>
<rect x="612" y="635" width="1" height="70" fill="#c0c0c0"/>
<rect x="620" y="635" width="1" height="63" fill="#c0c0c0"/>
<rect x="628" y="635" width="1" height="51" fill="#c0c0c0"/>
<rect x="636" y="635" width="1" height="36" fill="#c0c0c0"/>
<rect x="644" y="635" width="1" height="23" fill="#c0c0c0"/>
<rect x="652" y="635" width="1" height="14" fill="#c0c0c0"/>
<rect x="660" y="635" width="1" height="10" fill="#c0c0c0"/>
<rect x="668" y="635" width="1" height="8" fill="#c0c0c0"/>
<rect x="676" y="635" width="1" height="1" fill="#c0c0c0"/>
<rect x="684" y="629" width="1" height="7" fill="#c0c0c0"/>
<rect x="692" y="624" width="1" height="12" fill="#c0c0c0"/>
<rect x="700" y="618" width="1" height="18" fill="#c0c0c0"/>
<rect x="708" y="617" width="1" height="19" fill="#c0c0c0"/>
<rect x="716" y="621" width="1" height="15" fill="#c0c0c0"/>
<rect x="724" y="623" width="1" height="13" fill="#c0c0c0"/>
<rect x="732" y="625" width="1" height="11" fill="#c0c0c0"/>
<rect x="740" y="627" width="1" height="9" fill="#c0c0c0"/>
<rect x="748" y="628" width="1" height="8" fill="#c0c0c0"/>
<rect x="756" y="628" width="1" height="8" fill="#c0c0c0"/>
<rect x="764" y="625" width="1" height="11" fill="#c0c0c0"/>
<rect x="772" y="631" width="1" height="5" fill="#c0c0c0"/>
<rect x="780" y="635" width="1" height="1" fill="#c0c0c0"/>
<rect x="788" y="635" width="1" height="1" fill="#c0c0c0"/>
<rect x="796" y="635" width="1" height="8" fill="#c0c0c0"/>
<rect x="804" y="635" width="1" height="18" fill="#c0c0c0"/>
<rect x="812" y="635" width="1" height="15" fill="#c0c0c0"/>
<rect x="820" y="635" width="1" height="13" fill="#c0c0c0"/>
<rect x="828" y="635" width="1" height="20" fill="#c0c0c0"/>
<rect x="836" y="635" width="1" height="24" fill="#c0c0c0"/>
<rect x="844" y="635" width="1" height="23" fill="#c0c0c0"/>
<rect x="852" y="635" width="1" height="23" fill="#c0c0c0"/>
<rect x="860" y="635" width="1" height="21" fill="#c0c0c0"/>
<rect x="868" y="635" width="1" height="24" fill="#c0c0c0"/>
<rect x="876" y="635" width="1" height="29" fill="#c0c0c0"/>
<rect x="884" y="635" width="1" height="35" fill="#c0c0c0"/>
<rect x="892" y="635" width="1" height="39" fill="#c0c0c0"/>
<rect x="900" y="635" width="1" height="48" fill="#c0c0c0"/>
<rect x="908" y="635" width="1" height="57" fill="#c0c0c0"/>
<rect x="916" y="635" width="1" height="70" fill="#c0c0c0"/>
<rect x="924" y="635" width="1" height="81" fill="#c0c0c0"/>
<rect x="932" y="635" width="1" height="88" fill="#c0c0c0"/>
<rect x="940" y="635" width="1" height="93" fill="#c0c0c0"/>
<rect x="948" y="635" width="1" height="97" fill="#c0c0c0"/>
<rect x="956" y="635" width="1" height="102" fill="#c0c0c0"/>
<rect x="964" y="635" width="1" height="101" fill="#c0c0c0"/>
<rect x="972" y="635" width="1" height="98" fill="#c0c0c0"/>
<rect x="980" y="635" width="1" height="93" fill="#c0c0c0"/>
<rect x="988" y="635" width="1" height="90" fill="#c0c0c0"/>
<rect x="996" y="635" width="1" height="85" fill="#c0c0c0"/>
<rect x="1004" y="635" width="1" height="79" fill="#c0c0c0"/>
<rect x="1012" y="635" width="1" height="64" fill="#c0c0c0"/>
<rect x="1020" y="635" width="1" height="47" fill="#c0c0c0"/>
<rect x="1028" y="635" width="1" height="34" fill="#c0c0c0"/>
<rect x="1036" y="635" width="1" height="26" fill="#c0c0c0"/>
<rect x="1044" y="635" width="1" height="15" fill="#c0c0c0"/>
<rect x="1052" y="635" width="1" height="1" fill="#c0c0c0"/>
<rect x="1060" y="631" width="1" height="5" fill="#c0c0c0"/>
<rect x="1068" y="625" width="1" height="11" fill="#c0c0c0"/>
<rect x="1076" y="619" width="1" height="17" fill="#c0c0c0"/>
<rect x="1084" y="614" width="1" height="22" fill="#c0c0c0"/>
<rect x="1092" y="611" width="1" height="25" fill="#c0c0c0"/>
<rect x="1100" y="608" width="1" height="28" fill="#c0c0c0"/>
<rect x="1108" y="604" width="1" height="32" fill="#c0c0c0"/>
<rect x="1116" y="600" width="1" height="36" fill="#c0c0c0"/>
<rect x="1124" y="597" width="1" height="39" fill="#c0c0c0"/>
<rect x="1132" y="600" width="1" height="36" fill="#c0c0c0"/>
<rect x="1140" y="602" width="1" height="34" fill="#c0c0c0"/>
<rect x="1148" y="600" width="1" height="36" fill="#c0c0c0"/>
<rect x="1156" y="594" width="1" height="42" fill="#c0c0c0"/>
<rect x="1164" y="590" width="1" height="46" fill="#c0c0c0"/>
<rect x="1172" y="587" width="1" height="49" fill="#c0c0c0"/>
<rect x="1180" y="587" width="1" height="49" fill="#c0c0c0"/>
<rect x="1188" y="592" width="1" height="44" fill="#c0c0c0"/>
<rect x="1196" y="597" width="1" height="39" fill="#c0c0c0"/>
<rect x="1204" y="598" width="1" height="38" fill="#c0c0c0"/>
<rect x="1212" y="598" width="1" height="38" fill="#c0c0c0"/>
<rect x="1220" y="598" width="1" height="38" fill="#c0c0c0"/>
<rect x="1228" y="599" width="1" height="37" fill="#c0c0c0"/>
<rect x="1236" y="598" width="1" height="38" fill="#c0c0c0"/>
<rect x="1244" y="595" width="1" height="41" fill="#c0c0c0"/>
<rect x="1252" y="593" width="1" height="43" fill="#c0c0c0"/>
<rect x="1260" y="592" width="1" height="44" fill="#c0c0c0"/>
<rect x="1268" y="592" width="1" height="44" fill="#c0c0c0"/>
<rect x="1276" y="591" width="1" height="45" fill="#c0c0c0"/>
<rect x="1284" y="589" width="1" height="47" fill="#c0c0c0"/>
<rect x="1292" y="585" width="1" height="51" fill="#c0c0c0"/>
<rect x="1300" y="587" width="1" height="49" fill="#c0c0c0"/>
<rect x="1308" y="590" width="1" height="46" fill="#c0c0c0"/>
<rect x="1316" y="592" width="1" height="44" fill="#c0c0c0"/>
<rect x="1324" y="596" width="1" height="40" fill="#c0c0c0"/>
<rect x="1332" y="599" width="1" height="37" fill="#c0c0c0"/>
<rect x="1340" y="599" width="1" height="37" fill="#c0c0c0"/>
<rect x="1348" y="604" width="1" height="32" fill="#c0c0c0"/>
<rect x="1356" y="609" width="1" height="27" fill="#c0c0c0"/>
<rect x="1364" y="615" width="1" height="21" fill="#c0c0c0"/>
<rect x="1372" y="620" width="1" height="16" fill="#c0c0c0"/>
<rect x="1380" y="621" width="1" height="15" fill="#c0c0c0"/>
<rect x="1388" y="626" width="1" height="10" fill="#c0c0c0"/>
<rect x="1396" y="632" width="1" height="4" fill="#c0c0c0"/>
<rect x="1404" y="635" width="1" height="6" fill="#c0c0c0"/>
<rect x="1412" y="635" width="1" height="13" fill="#c0c0c0"/>
</g>
<polyline points="0.0,698.3 17.0,676.7 33.0,655.0 50.0,636.7 67.0,620.0 83.0,608.3 97.0,602.7 113.0,601.0 127.0,602.3 140.0,606.7 157.0,615.0 173.0,623.3 193.0,631.7 213.0,641.0 233.0,649.0 253.0,658.3 273.0,666.0 290.0,669.0 303.0,670.0 317.0,667.7 333.0,661.7 350.0,653.3 367.0,646.0 383.0,642.3 400.0,640.7 417.0,640.0 433.0,639.0 450.0,637.3 467.0,635.0 477.0,634.0 490.0,636.0 500.0,638.3 517.0,646.0 533.0,653.3 550.0,660.7 563.0,666.0 580.0,675.0 597.0,685.0 613.0,694.0 623.0,698.3 632.0,699.3 640.0,696.7 653.0,686.7 670.0,671.7 687.0,655.0 703.0,639.3 720.0,630.0 733.0,625.0 747.0,622.3 760.0,622.3 773.0,624.0 787.0,627.3 800.0,631.7 817.0,637.7 833.0,645.0 850.0,651.7 867.0,655.0 880.0,658.3 893.0,661.7 907.0,667.3 917.0,673.3 927.0,681.7 940.0,695.0 953.0,708.3 967.0,718.3 980.0,726.0 990.0,729.0 1003.0,728.3 1013.0,724.0 1027.0,714.0 1040.0,698.3 1053.0,681.7 1067.0,665.0 1080.0,649.3 1093.0,635.0 1107.0,622.7 1120.0,613.5 1130.0,608.3 1140.5,604.0 1154.0,601.4 1168.0,597.3 1180.0,594.6 1198.5,594.0 1222.5,593.2 1239.5,594.6 1256.6,596.3 1273.7,594.6 1287.0,593.2 1292.8,592.6 1295.6,590.7 1307.9,590.4 1312.6,589.5 1318.2,589.3 1325.7,590.2 1342.7,591.6 1348.3,593.5 1354.9,594.9 1360.6,597.3 1366.7,600.3 1372.8,602.6 1378.4,605.3 1384.5,607.9 1390.7,610.9 1396.3,614.2 1402.4,618.5 1409.5,622.2" fill="none" stroke="#ff0000" stroke-width="0.85" stroke-dasharray="3,3" shape-rendering="crispEdges"/>
<line x1="1313.0" y1="592.5" x2="1419.6" y2="647.6" stroke="#ff0000" stroke-width="3.2"/>
<polygon points="1428.0,652.0 1415.7,650.7 1419.9,642.7" fill="#ff0000"/>
<text x="1" y="588" font-size="9.3" fill="#000" stroke="#000" stroke-width="0.22" textLength="130" lengthAdjust="spacingAndGlyphs" >MACD(12,26,9) -0.0982 0.0837</text>
<g shape-rendering="crispEdges">
<line x1="3" y1="783.5" x2="1654" y2="783.5" stroke="#b8b8b8" stroke-width="1" stroke-dasharray="3,3"/>
<line x1="3" y1="834.5" x2="1654" y2="834.5" stroke="#b8b8b8" stroke-width="1" stroke-dasharray="3,3"/>
<line x1="3" y1="895.5" x2="1654" y2="895.5" stroke="#b8b8b8" stroke-width="1" stroke-dasharray="3,3"/>
</g>
<polyline points="0.0,827.7 4.0,823.3 12.0,820.7 20.0,819.3 28.0,821.0 36.0,809.0 44.0,812.3 52.0,811.3 60.0,813.3 68.0,810.3 76.0,814.0 84.0,819.0 92.0,835.7 100.0,834.0 108.0,828.3 116.0,831.7 124.0,830.3 132.0,840.7 140.0,845.0 148.0,841.3 156.0,846.0 164.0,840.7 172.0,849.3 180.0,835.0 188.0,835.0 196.0,848.3 204.0,851.7 212.0,849.7 220.0,855.3 228.0,850.7 236.0,859.3 244.0,856.0 252.0,854.0 260.0,856.3 268.0,854.3 276.0,857.7 284.0,844.3 292.0,843.0 300.0,831.7 308.0,830.3 316.0,836.0 324.0,828.3 332.0,823.7 340.0,831.0 348.0,838.3 356.0,837.3 364.0,833.3 372.0,836.7 380.0,849.3 388.0,836.0 396.0,831.7 404.0,829.3 412.0,834.0 420.0,834.3 428.0,834.3 436.0,832.7 444.0,831.3 452.0,831.3 460.0,821.3 468.0,832.3 476.0,845.7 484.0,864.3 492.0,863.3 500.0,862.3 508.0,863.3 516.0,861.3 524.0,842.3 532.0,857.3 540.0,854.3 548.0,853.3 556.0,860.0 564.0,879.0 572.0,882.3 580.0,876.7 588.0,871.7 596.0,867.7 604.0,867.3 612.0,861.0 620.0,844.3 628.0,831.0 636.0,820.0 644.0,816.0 652.0,821.7 660.0,830.0 668.0,833.3 676.0,818.3 684.0,820.3 692.0,820.3 700.0,815.7 708.0,826.7 716.0,837.3 724.0,833.3 732.0,834.0 740.0,836.0 748.0,835.0 756.0,829.0 764.0,824.3 772.0,842.7 780.0,844.3 788.0,843.3 796.0,854.0 804.0,860.0 812.0,834.3 820.0,838.3 828.0,851.7 836.0,850.0 844.0,841.7 852.0,842.7 860.0,840.7 868.0,849.3 876.0,853.3 884.0,859.3 892.0,858.3 900.0,866.7 908.0,871.0 916.0,878.3 924.0,880.3 932.0,878.3 940.0,879.3 948.0,880.3 956.0,882.0 964.0,870.7 972.0,868.3 980.0,861.7 988.0,865.0 996.0,859.0 1004.0,854.3 1012.0,826.7 1020.0,821.3 1028.0,823.3 1036.0,829.0 1044.0,818.3 1052.0,811.7 1060.0,824.3 1068.0,820.7 1076.0,818.3 1084.0,817.3 1092.0,821.0 1100.0,817.3 1108.0,814.3 1116.0,812.7 1124.0,812.5 1132.0,825.3 1140.0,827.3 1148.0,815.7 1156.0,807.5 1164.0,807.2 1172.0,808.9 1180.0,813.3 1188.0,831.0 1196.0,827.0 1204.0,820.8 1212.0,819.0 1220.0,817.4 1228.0,820.5 1236.0,815.7 1244.0,810.6 1252.0,808.9 1260.0,808.9 1268.0,808.9 1276.0,807.5 1284.0,802.4 1292.0,796.9 1300.0,814.3 1308.0,820.0 1316.0,823.6 1324.0,826.3 1332.0,817.4 1340.0,815.0 1348.0,831.0 1356.0,836.5 1364.0,837.9 1372.0,838.9 1380.0,830.4 1388.0,845.7 1396.0,859.4 1404.0,853.3 1412.0,853.3" fill="none" stroke="#1e90ff" stroke-width="0.85" shape-rendering="crispEdges"/>
<line x1="1292.0" y1="797.0" x2="1421.8" y2="866.8" stroke="#ff0000" stroke-width="3.2"/>
<polygon points="1430.2,871.3 1417.9,869.8 1422.2,861.9" fill="#ff0000"/>
<text x="1" y="760" font-size="9.3" fill="#000" stroke="#000" stroke-width="0.22" textLength="67" lengthAdjust="spacingAndGlyphs" >RSI(14) 39.0389</text>
<g shape-rendering="crispEdges" fill="#000">
<rect x="0" y="20" width="1655" height="1"/>
<rect x="1654" y="20" width="1" height="902"/>
<rect x="0" y="573" width="1655" height="1"/>
<rect x="0" y="575" width="1655" height="1"/>
<rect x="0" y="745" width="1655" height="1"/>
<rect x="0" y="747" width="1655" height="1"/>
<rect x="0" y="921" width="1655" height="1"/>
<rect x="1654" y="574" width="1" height="1" fill="#fff"/><rect x="1654" y="746" width="1" height="1" fill="#fff"/>
</g>
<rect x="1699.500" y="18" width="1.500" height="922" fill="#dcdcdc"/>
<polygon points="1415.8,21 1425.4,21 1420.6,26.2" fill="#c0c0c0"/>
<g shape-rendering="crispEdges">
<rect x="1655" y="43" width="2" height="1" fill="#000"/>
<rect x="1655" y="76" width="2" height="1" fill="#000"/>
<rect x="1655" y="109" width="2" height="1" fill="#000"/>
<rect x="1655" y="142" width="2" height="1" fill="#000"/>
<rect x="1655" y="174" width="2" height="1" fill="#000"/>
<rect x="1655" y="207" width="2" height="1" fill="#000"/>
<rect x="1655" y="240" width="2" height="1" fill="#000"/>
<rect x="1655" y="273" width="2" height="1" fill="#000"/>
<rect x="1655" y="306" width="2" height="1" fill="#000"/>
<rect x="1655" y="340" width="2" height="1" fill="#000"/>
<rect x="1655" y="373" width="2" height="1" fill="#000"/>
<rect x="1655" y="406" width="2" height="1" fill="#000"/>
<rect x="1655" y="438" width="2" height="1" fill="#000"/>
<rect x="1655" y="472" width="2" height="1" fill="#000"/>
<rect x="1655" y="504" width="2" height="1" fill="#000"/>
<rect x="1655" y="537" width="2" height="1" fill="#000"/>
<rect x="1655" y="570" width="2" height="1" fill="#000"/>
</g>
<text x="1660.7" y="46.4" font-size="9.3" fill="#000" stroke="#000" stroke-width="0.22" textLength="32" lengthAdjust="spacingAndGlyphs" >155.210</text>
<text x="1660.7" y="79.10000000000001" font-size="9.3" fill="#000" stroke="#000" stroke-width="0.22" textLength="32" lengthAdjust="spacingAndGlyphs" >154.780</text>
<text x="1660.7" y="112.10000000000001" font-size="9.3" fill="#000" stroke="#000" stroke-width="0.22" textLength="32" lengthAdjust="spacingAndGlyphs" >154.350</text>
<text x="1660.7" y="144.9" font-size="9.3" fill="#000" stroke="#000" stroke-width="0.22" textLength="32" lengthAdjust="spacingAndGlyphs" >153.920</text>
<text x="1660.7" y="177.6" font-size="9.3" fill="#000" stroke="#000" stroke-width="0.22" textLength="32" lengthAdjust="spacingAndGlyphs" >153.490</text>
<text x="1660.7" y="210.70000000000002" font-size="9.3" fill="#000" stroke="#000" stroke-width="0.22" textLength="32" lengthAdjust="spacingAndGlyphs" >153.050</text>
<text x="1660.7" y="243.6" font-size="9.3" fill="#000" stroke="#000" stroke-width="0.22" textLength="32" lengthAdjust="spacingAndGlyphs" >152.620</text>
<text x="1660.7" y="276.59999999999997" font-size="9.3" fill="#000" stroke="#000" stroke-width="0.22" textLength="32" lengthAdjust="spacingAndGlyphs" >152.190</text>
<text x="1660.7" y="309.59999999999997" font-size="9.3" fill="#000" stroke="#000" stroke-width="0.22" textLength="32" lengthAdjust="spacingAndGlyphs" >151.760</text>
<text x="1660.7" y="343.0" font-size="9.3" fill="#000" stroke="#000" stroke-width="0.22" textLength="32" lengthAdjust="spacingAndGlyphs" >151.330</text>
<text x="1660.7" y="376.0" font-size="9.3" fill="#000" stroke="#000" stroke-width="0.22" textLength="32" lengthAdjust="spacingAndGlyphs" >150.900</text>
<text x="1660.7" y="408.9" font-size="9.3" fill="#000" stroke="#000" stroke-width="0.22" textLength="32" lengthAdjust="spacingAndGlyphs" >150.470</text>
<text x="1660.7" y="441.7" font-size="9.3" fill="#000" stroke="#000" stroke-width="0.22" textLength="32" lengthAdjust="spacingAndGlyphs" >150.040</text>
<text x="1660.7" y="474.9" font-size="9.3" fill="#000" stroke="#000" stroke-width="0.22" textLength="32" lengthAdjust="spacingAndGlyphs" >149.600</text>
<text x="1660.7" y="507.59999999999997" font-size="9.3" fill="#000" stroke="#000" stroke-width="0.22" textLength="32" lengthAdjust="spacingAndGlyphs" >149.170</text>
<text x="1660.7" y="540.6" font-size="9.3" fill="#000" stroke="#000" stroke-width="0.22" textLength="32" lengthAdjust="spacingAndGlyphs" >148.740</text>
<text x="1660.7" y="573.6" font-size="9.3" fill="#000" stroke="#000" stroke-width="0.22" textLength="32" lengthAdjust="spacingAndGlyphs" >148.310</text>
<rect x="1656" y="233" width="41" height="11" fill="#ff0000" shape-rendering="crispEdges"/>
<text x="1660.7" y="242" font-size="9.3" fill="#fff" textLength="32" lengthAdjust="spacingAndGlyphs" >152.637</text>
<rect x="1656" y="263" width="41" height="11" fill="#ff0000" shape-rendering="crispEdges"/>
<text x="1660.7" y="272" font-size="9.3" fill="#fff" textLength="32" lengthAdjust="spacingAndGlyphs" >152.245</text>
<rect x="1656" y="283" width="41" height="11" fill="#32cd32" shape-rendering="crispEdges"/>
<text x="1660.7" y="292" font-size="9.3" fill="#fff" textLength="32" lengthAdjust="spacingAndGlyphs" >151.984</text>
<rect x="1656" y="299" width="41" height="11" fill="#000000" shape-rendering="crispEdges"/>
<text x="1660.7" y="308" font-size="9.3" fill="#fff" textLength="32" lengthAdjust="spacingAndGlyphs" >151.786</text>
<rect x="1656" y="321" width="41" height="11" fill="#0000ff" shape-rendering="crispEdges"/>
<text x="1660.7" y="330" font-size="9.3" fill="#fff" textLength="32" lengthAdjust="spacingAndGlyphs" >151.489</text>
<rect x="1656" y="346" width="41" height="11" fill="#0000ff" shape-rendering="crispEdges"/>
<text x="1660.7" y="355" font-size="9.3" fill="#fff" textLength="32" lengthAdjust="spacingAndGlyphs" >151.163</text>
<rect x="1655" y="577" width="1" height="1" fill="#000" shape-rendering="crispEdges"/>
<text x="1658" y="585.8" font-size="9.3" fill="#000" stroke="#000" stroke-width="0.22" textLength="27.9" lengthAdjust="spacingAndGlyphs" >0.4534</text>
<rect x="1655" y="635" width="1" height="1" fill="#000" shape-rendering="crispEdges"/>
<text x="1658" y="638.9" font-size="9.3" fill="#000" stroke="#000" stroke-width="0.22" textLength="17.5" lengthAdjust="spacingAndGlyphs" >0.00</text>
<rect x="1655" y="743" width="1" height="1" fill="#000" shape-rendering="crispEdges"/>
<text x="1658" y="741.9" font-size="9.3" fill="#000" stroke="#000" stroke-width="0.22" textLength="30.5" lengthAdjust="spacingAndGlyphs" >-0.8513</text>
<rect x="1655" y="749" width="1" height="1" fill="#000" shape-rendering="crispEdges"/>
<text x="1658.5" y="757.8" font-size="9.3" fill="#000" stroke="#000" stroke-width="0.22" textLength="15" lengthAdjust="spacingAndGlyphs" >100</text>
<rect x="1655" y="783" width="1" height="1" fill="#000" shape-rendering="crispEdges"/>
<text x="1658.5" y="786.8" font-size="9.3" fill="#000" stroke="#000" stroke-width="0.22" textLength="10" lengthAdjust="spacingAndGlyphs" >80</text>
<rect x="1655" y="834" width="1" height="1" fill="#000" shape-rendering="crispEdges"/>
<text x="1658.5" y="837.8" font-size="9.3" fill="#000" stroke="#000" stroke-width="0.22" textLength="10" lengthAdjust="spacingAndGlyphs" >50</text>
<rect x="1655" y="895" width="1" height="1" fill="#000" shape-rendering="crispEdges"/>
<text x="1658.5" y="898.8" font-size="9.3" fill="#000" stroke="#000" stroke-width="0.22" textLength="10" lengthAdjust="spacingAndGlyphs" >15</text>
<rect x="1655" y="919" width="1" height="1" fill="#000" shape-rendering="crispEdges"/>
<text x="1658.5" y="917.5" font-size="9.3" fill="#000" stroke="#000" stroke-width="0.22" textLength="4.6" lengthAdjust="spacingAndGlyphs" >0</text>
<g clip-path="url(#cTime)">
<rect x="-4" y="922" width="1" height="3" fill="#000" shape-rendering="crispEdges"/>
<text x="-4.800000000000001" y="934.2" font-size="9.3" fill="#000" stroke="#000" stroke-width="0.22" textLength="49.3" lengthAdjust="spacingAndGlyphs" >22 Jun 2021</text>
<rect x="60" y="922" width="1" height="3" fill="#000" shape-rendering="crispEdges"/>
<text x="60.6" y="934.2" font-size="9.3" fill="#000" stroke="#000" stroke-width="0.22" textLength="51.8" lengthAdjust="spacingAndGlyphs" >23 Jun 16:00</text>
<rect x="124" y="922" width="1" height="3" fill="#000" shape-rendering="crispEdges"/>
<text x="124.6" y="934.2" font-size="9.3" fill="#000" stroke="#000" stroke-width="0.22" textLength="51.8" lengthAdjust="spacingAndGlyphs" >25 Jun 00:00</text>
<rect x="188" y="922" width="1" height="3" fill="#000" shape-rendering="crispEdges"/>
<text x="188.6" y="934.2" font-size="9.3" fill="#000" stroke="#000" stroke-width="0.22" textLength="51.8" lengthAdjust="spacingAndGlyphs" >28 Jun 08:00</text>
<rect x="252" y="922" width="1" height="3" fill="#000" shape-rendering="crispEdges"/>
<text x="252.6" y="934.2" font-size="9.3" fill="#000" stroke="#000" stroke-width="0.22" textLength="51.8" lengthAdjust="spacingAndGlyphs" >29 Jun 16:00</text>
<rect x="316" y="922" width="1" height="3" fill="#000" shape-rendering="crispEdges"/>
<text x="316.6" y="934.2" font-size="9.3" fill="#000" stroke="#000" stroke-width="0.22" textLength="43.6" lengthAdjust="spacingAndGlyphs" >1 Jul 00:00</text>
<rect x="380" y="922" width="1" height="3" fill="#000" shape-rendering="crispEdges"/>
<text x="380.6" y="934.2" font-size="9.3" fill="#000" stroke="#000" stroke-width="0.22" textLength="43.6" lengthAdjust="spacingAndGlyphs" >2 Jul 08:00</text>
<rect x="444" y="922" width="1" height="3" fill="#000" shape-rendering="crispEdges"/>
<text x="444.6" y="934.2" font-size="9.3" fill="#000" stroke="#000" stroke-width="0.22" textLength="43.6" lengthAdjust="spacingAndGlyphs" >5 Jul 16:00</text>
<rect x="508" y="922" width="1" height="3" fill="#000" shape-rendering="crispEdges"/>
<text x="508.6" y="934.2" font-size="9.3" fill="#000" stroke="#000" stroke-width="0.22" textLength="43.6" lengthAdjust="spacingAndGlyphs" >7 Jul 00:00</text>
<rect x="572" y="922" width="1" height="3" fill="#000" shape-rendering="crispEdges"/>
<text x="572.6" y="934.2" font-size="9.3" fill="#000" stroke="#000" stroke-width="0.22" textLength="43.6" lengthAdjust="spacingAndGlyphs" >8 Jul 08:00</text>
<rect x="636" y="922" width="1" height="3" fill="#000" shape-rendering="crispEdges"/>
<text x="636.6" y="934.2" font-size="9.3" fill="#000" stroke="#000" stroke-width="0.22" textLength="43.6" lengthAdjust="spacingAndGlyphs" >9 Jul 16:00</text>
<rect x="700" y="922" width="1" height="3" fill="#000" shape-rendering="crispEdges"/>
<text x="700.6" y="934.2" font-size="9.3" fill="#000" stroke="#000" stroke-width="0.22" textLength="48.8" lengthAdjust="spacingAndGlyphs" >13 Jul 00:00</text>
<rect x="764" y="922" width="1" height="3" fill="#000" shape-rendering="crispEdges"/>
<text x="764.6" y="934.2" font-size="9.3" fill="#000" stroke="#000" stroke-width="0.22" textLength="48.8" lengthAdjust="spacingAndGlyphs" >14 Jul 08:00</text>
<rect x="828" y="922" width="1" height="3" fill="#000" shape-rendering="crispEdges"/>
<text x="828.6" y="934.2" font-size="9.3" fill="#000" stroke="#000" stroke-width="0.22" textLength="48.8" lengthAdjust="spacingAndGlyphs" >15 Jul 16:00</text>
<rect x="892" y="922" width="1" height="3" fill="#000" shape-rendering="crispEdges"/>
<text x="892.6" y="934.2" font-size="9.3" fill="#000" stroke="#000" stroke-width="0.22" textLength="48.8" lengthAdjust="spacingAndGlyphs" >19 Jul 00:00</text>
<rect x="956" y="922" width="1" height="3" fill="#000" shape-rendering="crispEdges"/>
<text x="956.6" y="934.2" font-size="9.3" fill="#000" stroke="#000" stroke-width="0.22" textLength="48.8" lengthAdjust="spacingAndGlyphs" >20 Jul 08:00</text>
<rect x="1020" y="922" width="1" height="3" fill="#000" shape-rendering="crispEdges"/>
<text x="1020.6" y="934.2" font-size="9.3" fill="#000" stroke="#000" stroke-width="0.22" textLength="48.8" lengthAdjust="spacingAndGlyphs" >21 Jul 16:00</text>
<rect x="1084" y="922" width="1" height="3" fill="#000" shape-rendering="crispEdges"/>
<text x="1084.6" y="934.2" font-size="9.3" fill="#000" stroke="#000" stroke-width="0.22" textLength="48.8" lengthAdjust="spacingAndGlyphs" >23 Jul 00:00</text>
<rect x="1148" y="922" width="1" height="3" fill="#000" shape-rendering="crispEdges"/>
<text x="1148.6" y="934.2" font-size="9.3" fill="#000" stroke="#000" stroke-width="0.22" textLength="48.8" lengthAdjust="spacingAndGlyphs" >26 Jul 08:00</text>
<rect x="1212" y="922" width="1" height="3" fill="#000" shape-rendering="crispEdges"/>
<text x="1212.6" y="934.2" font-size="9.3" fill="#000" stroke="#000" stroke-width="0.22" textLength="48.8" lengthAdjust="spacingAndGlyphs" >27 Jul 16:00</text>
<rect x="1276" y="922" width="1" height="3" fill="#000" shape-rendering="crispEdges"/>
<text x="1276.6" y="934.2" font-size="9.3" fill="#000" stroke="#000" stroke-width="0.22" textLength="48.8" lengthAdjust="spacingAndGlyphs" >29 Jul 00:00</text>
<rect x="1340" y="922" width="1" height="3" fill="#000" shape-rendering="crispEdges"/>
<text x="1340.6" y="934.2" font-size="9.3" fill="#000" stroke="#000" stroke-width="0.22" textLength="48.8" lengthAdjust="spacingAndGlyphs" >30 Jul 08:00</text>
<rect x="1404" y="922" width="1" height="3" fill="#000" shape-rendering="crispEdges"/>
<text x="1404.6" y="934.2" font-size="9.3" fill="#000" stroke="#000" stroke-width="0.22" textLength="50" lengthAdjust="spacingAndGlyphs" >2 Aug 16:00</text>
</g>
<g id="toolbar">
<rect x="0" y="0" width="1701" height="16" fill="#f0f0f0"/>
<rect x="0" y="15" width="1701" height="1" fill="#f6f6f6"/><rect x="0" y="16" width="1701" height="1" fill="#b0b0b0"/><rect x="0" y="17" width="1701" height="1" fill="#6c6c6c"/>
<circle cx="-1" cy="1" r="5" fill="#e4f0fc" stroke="#7aa0d0" stroke-width="1.2"/><line x1="3" y1="6" x2="7" y2="11" stroke="#d9a520" stroke-width="2.4" stroke-linecap="round"/>
<rect x="15" y="0" width="1" height="13" fill="#a0a0a0" shape-rendering="crispEdges"/><rect x="16" y="0" width="1" height="13" fill="#fff" shape-rendering="crispEdges"/>
<path d="M25.5 0V9.5H32" fill="#fff" stroke="#909090"/><rect x="26" y="0" width="10" height="9" fill="#fff"/><path d="M25.5 0V9.5H33M36.5 0V4" fill="none" stroke="#909090"/><path d="M28 3.5h6M28 5.5h4" stroke="#a0a0a0"/>
<path d="M33 2.5h4v4h4v4h-4v3h-4v-3h-4v-4h4z" fill="#22c322" stroke="#158a15" stroke-width="0.6"/>
<g stroke="#111" stroke-width="1.15" fill="none" stroke-linecap="square">
<path d="M44.500 1h5M47 0v7l-1 0.500M45.800 3.200l-1.200 2.800M48.300 3.200l1.200 2.300M50.500 1h4.500M51.300 0v3.500l-1.300 4M53.500 1v6.800"/>
<path d="M56.900 0.500v5.200l1.800-1.400M64.100 0v7.300h-1.800"/>
<path d="M69.700 0v2.200h8.400v-2.200M68 5.300h12M73.900 0v7.800"/>
</g>
<polygon points="92,3 100,-3 108,4 100,11" fill="#e8b030" stroke="#b07a10" stroke-width="0.8"/><path d="M93 5l7 7 8-7" fill="none" stroke="#a06a08" stroke-width="1.2"/>
<rect x="122" y="0" width="11" height="5" fill="#3f7fd0"/><rect x="126" y="0" width="3" height="4" fill="#e8f0ff"/>
<path d="M122 12c-3 0-3.5-4 0-4.3c0.5-3 5-3.5 6-0.8c2-1.6 5 0 4.4 2c3 0 3 3.2 0 3.2z" fill="#e6eefb" stroke="#6a90c8" stroke-width="0.9"/>
<g fill="none" stroke-width="1.2"><path d="M151 -2a7.5 7.5 0 0 0 5 11" stroke="#88a8e0"/><path d="M153.5 -1a5 5 0 0 0 3 7" stroke="#6a90d8"/><path d="M163 -2a8 8 0 0 1-6 13" stroke="#88a8e0"/></g><path d="M157 1v11a8 8 0 0 0 6-10z" fill="#48a848"/><circle cx="157" cy="1" r="2" fill="#4070d0"/>
<ellipse cx="182" cy="0.5" rx="7" ry="2.5" fill="#a8c8f0" stroke="#6a90c8" stroke-width="0.8"/><path d="M175 2.5h14l-3 6-3 3h-3l-3-4z" fill="#f0c030" stroke="#c09010" stroke-width="0.6"/><circle cx="187.5" cy="8" r="4.2" fill="#e02020"/><rect x="185.7" y="6.2" width="3.6" height="3.6" fill="#fff"/>
<g stroke="#111" stroke-width="1.15" fill="none" stroke-linecap="square">
<path d="M198.200 0v7.400h7.700v-7.400M198.200 0.800h7.700M198.200 4.100h7.700"/>
<path d="M208.500 1.500h5M211 1.500l-2 4.500 4.500-0.800M213 4l1 2.500M215 1h4.500v5l-1 1.500M217 0c0 3.500-0.800 5.500-2.500 7.500"/>
<path d="M224.500 0l-3 2.500M228.500 0l3 2.500M223.500 2.500c1.500 2.500 4.500 4.500 8.500 5.300M229.500 2.500c-1.500 2.500-4.500 4.500-8.500 5.300"/>
<path d="M234.500 0v1.500h6.500v-1.500M236 2.500l-2.500 3M235 3.800h7.500c0 2-0.500 3.500-1.500 4M238 3.800l-2.500 4M240.300 3.800l-2.500 4"/>
</g>
<rect x="251" y="0" width="1" height="16" fill="#909090" shape-rendering="crispEdges"/><rect x="252" y="0" width="1" height="16" fill="#fff" shape-rendering="crispEdges"/>
<rect x="255" y="0" width="3" height="1" fill="#b0b0b0" shape-rendering="crispEdges"/>
<rect x="255" y="2" width="3" height="1" fill="#b0b0b0" shape-rendering="crispEdges"/>
<rect x="255" y="4" width="3" height="1" fill="#b0b0b0" shape-rendering="crispEdges"/>
<rect x="255" y="6" width="3" height="1" fill="#b0b0b0" shape-rendering="crispEdges"/>
<rect x="255" y="8" width="3" height="1" fill="#b0b0b0" shape-rendering="crispEdges"/>
<rect x="255" y="10" width="3" height="1" fill="#b0b0b0" shape-rendering="crispEdges"/>
<rect x="255" y="12" width="3" height="1" fill="#b0b0b0" shape-rendering="crispEdges"/>
<path d="M269.5 0V12M266.5 9.5H281" stroke="#505050" stroke-width="1" fill="none" shape-rendering="crispEdges"/><polygon points="280,7.5 282.5,9.5 280,11.5" fill="#505050"/>
<path d="M273 6h2V1h3" fill="none" stroke="#189018" stroke-width="1.4"/>
<rect x="289" y="0" width="1" height="13" fill="#a0a0a0" shape-rendering="crispEdges"/><rect x="290" y="0" width="1" height="13" fill="#fff" shape-rendering="crispEdges"/>
<rect x="291" y="0" width="23" height="14" fill="#f8f8f8"/>
<path d="M297.5 0V12M294.5 9.5H309" stroke="#505050" stroke-width="1" fill="none" shape-rendering="crispEdges"/><polygon points="308,7.5 310.5,9.5 308,11.5" fill="#505050"/>
<rect x="301" y="0" width="5" height="6" fill="#20c020" stroke="#158a15" stroke-width="0.6"/><rect x="303" y="6" width="1" height="2" fill="#158a15"/>
<path d="M325.5 0V12M322.5 9.5H337" stroke="#505050" stroke-width="1" fill="none" shape-rendering="crispEdges"/><polygon points="336,7.5 338.5,9.5 336,11.5" fill="#505050"/>
<path d="M324.5 7c3-4 5-7 8-5.5c2 1 3 3 4 3.5" fill="none" stroke="#189018" stroke-width="1.2"/>
<rect x="346" y="0" width="1" height="13" fill="#a0a0a0" shape-rendering="crispEdges"/><rect x="347" y="0" width="1" height="13" fill="#fff" shape-rendering="crispEdges"/>
<circle cx="361.5" cy="1.5" r="5.6" fill="#cfe4fb" stroke="#4a88d8" stroke-width="1.3"/>
<line x1="366.0" y1="6" x2="370.5" y2="10.8" stroke="#d9a520" stroke-width="2.6" stroke-linecap="round"/>
<path d="M358.5 1.5h6M361.5 -1.5v6" stroke="#2a60c0" stroke-width="1.6" fill="none"/>
<circle cx="389.5" cy="1.5" r="5.6" fill="#cfe4fb" stroke="#4a88d8" stroke-width="1.3"/>
<line x1="394.0" y1="6" x2="398.5" y2="10.8" stroke="#d9a520" stroke-width="2.6" stroke-linecap="round"/>
<path d="M386.5 1.5h6" stroke="#2a60c0" stroke-width="1.6" fill="none"/>
<rect x="411.5" y="-2" width="7" height="5.5" fill="#48a828" stroke="#2a7a18" stroke-width="0.7"/><rect x="419.5" y="-2" width="7" height="5.5" fill="#3a70e0" stroke="#2050b0" stroke-width="0.7"/>
<rect x="411.5" y="4.5" width="7" height="6.5" fill="#3a70e0" stroke="#2050b0" stroke-width="0.7"/><rect x="419.5" y="4.5" width="7" height="6.5" fill="#48a828" stroke="#2a7a18" stroke-width="0.7"/>
<path d="M413 8h4M421 8h4M413 1h4M421 1h4" stroke="#fff" stroke-width="1.6"/>
<rect x="436" y="0" width="1" height="13" fill="#a0a0a0" shape-rendering="crispEdges"/><rect x="437" y="0" width="1" height="13" fill="#fff" shape-rendering="crispEdges"/>
<rect x="441" y="0" width="1" height="13" fill="#a0a0a0" shape-rendering="crispEdges"/><rect x="442" y="0" width="1" height="13" fill="#fff" shape-rendering="crispEdges"/>
<path d="M449.5 0V12M446.5 9.5H461" stroke="#505050" stroke-width="1" fill="none" shape-rendering="crispEdges"/><polygon points="460,7.5 462.5,9.5 460,11.5" fill="#505050"/>
<polygon points="454,0 458,3.5 454,7" fill="#20b020"/>
<rect x="469" y="0" width="1" height="13" fill="#a0a0a0" shape-rendering="crispEdges"/><rect x="470" y="0" width="1" height="13" fill="#fff" shape-rendering="crispEdges"/>
<path d="M477.5 0V12M474.5 9.5H489" stroke="#505050" stroke-width="1" fill="none" shape-rendering="crispEdges"/><polygon points="488,7.5 490.5,9.5 488,11.5" fill="#505050"/>
<rect x="483" y="0" width="1" height="9" fill="#2060c0"/><path d="M488 3.5h-3.5m1.8-2l-2 2 2 2" stroke="#d04010" stroke-width="1" fill="none"/>
<rect x="498" y="0" width="1" height="13" fill="#a0a0a0" shape-rendering="crispEdges"/><rect x="499" y="0" width="1" height="13" fill="#fff" shape-rendering="crispEdges"/>
<path d="M508.500 0V9.500H515" fill="none" stroke="#909090"/><rect x="509" y="0" width="10" height="9" fill="#fff"/><path d="M508.5 0V9.500H516M519.5 0V4" fill="none" stroke="#909090"/>
<path d="M516.500 2.500h4v4h3.500v4h-3.500v3h-4v-3h-4v-4h4z" fill="#22c322" stroke="#158a15" stroke-width="0.6"/>
<polygon points="530,3 535,3 532.5,6" fill="#000"/>
<circle cx="554" cy="3" r="7" fill="#fff" stroke="#2a6ad8" stroke-width="2.2"/><path d="M554 -1v4.500h3" stroke="#606060" stroke-width="1" fill="none"/>
<polygon points="569,3 574,3 571.5,6" fill="#000"/>
<rect x="585.5" y="-2" width="15" height="12.5" fill="#fff" stroke="#4a80d0" stroke-width="1.2"/><path d="M586 5h14" stroke="#4a80d0" stroke-width="0.8"/><path d="M588 3l3-1.500 3 0.500 4-1.500" stroke="#c03020" fill="none" stroke-width="1"/><path d="M588 8.500l3-1.500 2 1 2-2 3 1.500" stroke="#20a020" fill="none" stroke-width="1"/>
<polygon points="608,3 613,3 610.5,6" fill="#000"/>
<rect x="619" y="0" width="1" height="16" fill="#909090" shape-rendering="crispEdges"/><rect x="620" y="0" width="1" height="16" fill="#fff" shape-rendering="crispEdges"/>
<rect x="623" y="0" width="3" height="1" fill="#b0b0b0" shape-rendering="crispEdges"/>
<rect x="623" y="2" width="3" height="1" fill="#b0b0b0" shape-rendering="crispEdges"/>
<rect x="623" y="4" width="3" height="1" fill="#b0b0b0" shape-rendering="crispEdges"/>
<rect x="623" y="6" width="3" height="1" fill="#b0b0b0" shape-rendering="crispEdges"/>
<rect x="623" y="8" width="3" height="1" fill="#b0b0b0" shape-rendering="crispEdges"/>
<rect x="623" y="10" width="3" height="1" fill="#b0b0b0" shape-rendering="crispEdges"/>
<rect x="623" y="12" width="3" height="1" fill="#b0b0b0" shape-rendering="crispEdges"/>
<rect x="629" y="0" width="1" height="13" fill="#a0a0a0" shape-rendering="crispEdges"/><rect x="630" y="0" width="1" height="13" fill="#fff" shape-rendering="crispEdges"/>
<rect x="631" y="0" width="24" height="14" fill="#f8f8f8"/>
<path d="M637.500 -3v11l2.700-2.600 2.300 5 2-1-2.300-4.800h3.600z" fill="#404040"/>
<path d="M669.500 0v10.500M662 5.500h15.500" stroke="#404040" stroke-width="1" shape-rendering="crispEdges"/>
<rect x="686" y="0" width="1" height="13" fill="#a0a0a0" shape-rendering="crispEdges"/><rect x="687" y="0" width="1" height="13" fill="#fff" shape-rendering="crispEdges"/>
<rect x="703" y="0" width="1" height="10" fill="#505050"/><rect x="726" y="4" width="12" height="1" fill="#505050"/><line x1="753.500" y1="10" x2="766" y2="-1" stroke="#505050" stroke-width="1.100"/>
<path d="M780 8l10-9M783 10l11-10M782 4l3 4M786 1l3 4" stroke="#606060" stroke-width="0.9" fill="none"/>
<text x="791" y="12.5" font-size="6.5" fill="#303030" font-weight="bold" >E</text>
<path d="M809 0.500h13M809 4.500h13M809 8.500h9" stroke="#606060" stroke-width="1" stroke-dasharray="1,1" shape-rendering="crispEdges"/>
<text x="819" y="12.5" font-size="6.5" fill="#303030" font-weight="bold" >F</text>
<text x="839.5" y="9" font-size="13" fill="#606060" textLength="8" lengthAdjust="spacingAndGlyphs" font-weight="bold" >A</text>
<rect x="866" y="-2" width="12" height="12" fill="none" stroke="#606060" stroke-width="1" stroke-dasharray="1,1" shape-rendering="crispEdges"/>
<text x="868.5" y="9" font-size="11" fill="#505050" font-weight="bold" >T</text>
<path d="M894 0l5 4M899 4l-3-0.500M899 4l-0.500-3" stroke="#404040" stroke-width="1.300" fill="none"/><polygon points="899,7 903,4 906,8 902,11" fill="#404040"/>
<polygon points="914,3 919,3 916.5,6" fill="#000"/>
<rect x="925" y="0" width="1" height="16" fill="#909090" shape-rendering="crispEdges"/><rect x="926" y="0" width="1" height="16" fill="#fff" shape-rendering="crispEdges"/>
<rect x="928" y="0" width="3" height="1" fill="#b0b0b0" shape-rendering="crispEdges"/>
<rect x="928" y="2" width="3" height="1" fill="#b0b0b0" shape-rendering="crispEdges"/>
<rect x="928" y="4" width="3" height="1" fill="#b0b0b0" shape-rendering="crispEdges"/>
<rect x="928" y="6" width="3" height="1" fill="#b0b0b0" shape-rendering="crispEdges"/>
<rect x="928" y="8" width="3" height="1" fill="#b0b0b0" shape-rendering="crispEdges"/>
<rect x="928" y="10" width="3" height="1" fill="#b0b0b0" shape-rendering="crispEdges"/>
<rect x="928" y="12" width="3" height="1" fill="#b0b0b0" shape-rendering="crispEdges"/>
<text x="940.4" y="8.0" font-size="9.6" fill="#404040" textLength="12.3" lengthAdjust="spacingAndGlyphs" >M1</text>
<text x="968.6" y="8.0" font-size="9.6" fill="#404040" textLength="12.4" lengthAdjust="spacingAndGlyphs" >M5</text>
<text x="994.4" y="8.0" font-size="9.6" fill="#404040" textLength="17.6" lengthAdjust="spacingAndGlyphs" >M15</text>
<text x="1022.6" y="8.0" font-size="9.6" fill="#404040" textLength="17.6" lengthAdjust="spacingAndGlyphs" >M30</text>
<text x="1053.3" y="8.0" font-size="9.6" fill="#404040" textLength="11.7" lengthAdjust="spacingAndGlyphs" >H1</text>
<rect x="1076" y="0" width="24" height="14" fill="#f8f8f8"/><rect x="1075" y="0" width="1" height="14" fill="#a8a8a8"/>
<text x="1080.4" y="8.0" font-size="9.6" fill="#404040" textLength="12.4" lengthAdjust="spacingAndGlyphs" >H4</text>
<text x="1109.7" y="8.0" font-size="9.6" fill="#404040" textLength="11.3" lengthAdjust="spacingAndGlyphs" >D1</text>
<text x="1136.9" y="8.0" font-size="9.6" fill="#404040" textLength="13.4" lengthAdjust="spacingAndGlyphs" >W1</text>
<text x="1163.3" y="8.0" font-size="9.6" fill="#404040" textLength="15.2" lengthAdjust="spacingAndGlyphs" >MN</text>
<rect x="1186" y="0" width="1" height="16" fill="#909090" shape-rendering="crispEdges"/><rect x="1187" y="0" width="1" height="16" fill="#fff" shape-rendering="crispEdges"/>
<circle cx="1656.500" cy="1.600" r="3.700" fill="#f4f6ff" stroke="#2a62d4" stroke-width="1.300"/><line x1="1653.600" y1="4.800" x2="1650" y2="8.400" stroke="#2258cc" stroke-width="2.100"/>
<path d="M1673.500 4.500c0-5 11-5 11 1c0 4-4 5-6.500 4.800l-1.800 2.300 0.200-2.700c-2-0.600-2.900-2.500-2.900-5.400z" fill="#e2e3ea" stroke="#b4b4b4" stroke-width="0.800"/><circle cx="1687.400" cy="1.700" r="8.300" fill="#e0391f"/>
<rect x="1686.300" y="0" width="1.800" height="5.400" fill="#fff"/><rect x="1684.100" y="4.700" width="4.800" height="0.800" fill="#fff"/>
</g>
</svg>
</body></html>
